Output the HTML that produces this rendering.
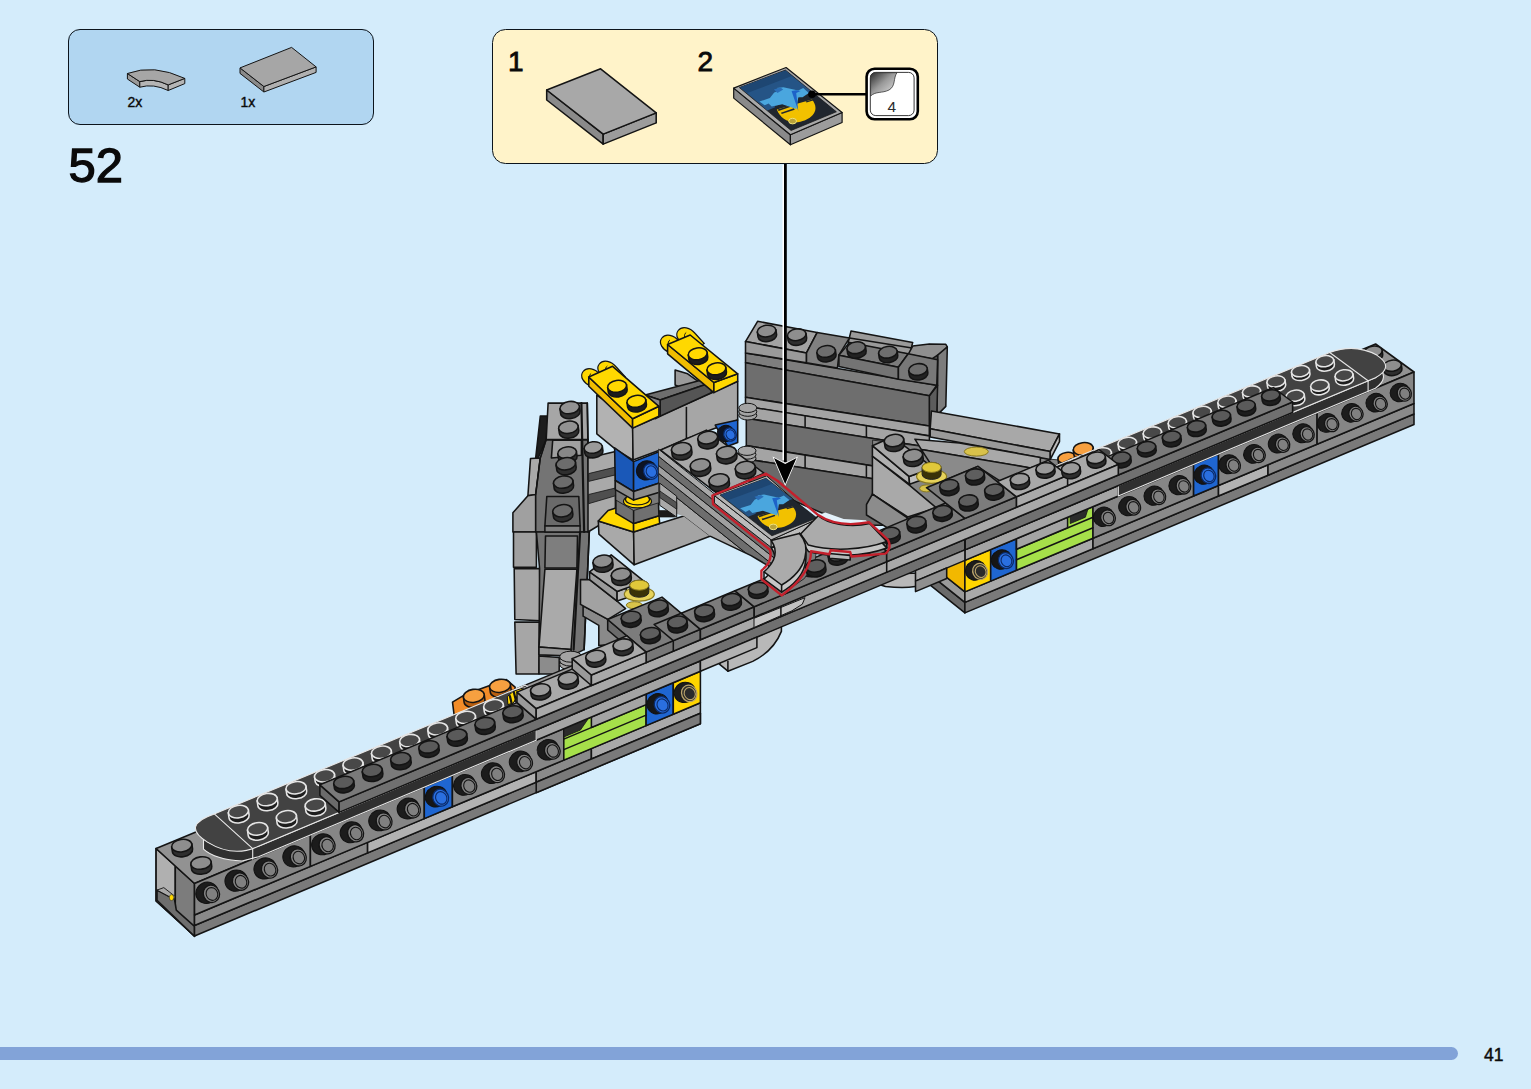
<!DOCTYPE html>
<html><head><meta charset="utf-8"><title>52</title>
<style>
html,body{margin:0;padding:0;background:#d4ecfb;}
body{width:1531px;height:1089px;position:relative;overflow:hidden;font-family:"Liberation Sans",sans-serif;color:#0a0a0a;}
.box{position:absolute;box-sizing:border-box;border:1.7px solid #0c141c;}
#parts{left:68px;top:29px;width:306px;height:96px;border-radius:12px;background:#b1d6f1;}
#sub{left:492px;top:29.2px;width:446px;height:135.3px;border-radius:13.5px;background:#fff3c9;}
.t{position:absolute;line-height:1;white-space:nowrap;}
#bar{position:absolute;left:0;top:1047px;width:1458px;height:12.5px;background:#82a3d8;border-radius:0 6.5px 6.5px 0;}
svg{position:absolute;left:0;top:0;}
</style></head><body>
<div class="box" id="parts"></div>
<div class="box" id="sub"></div>
<div id="bar"></div>
<div class="t" style="left:68.5px;top:141px;font-size:49px;-webkit-text-stroke:1.3px #0a0a0a;">52</div>
<div class="t" style="left:127.5px;top:95px;font-size:14px;-webkit-text-stroke:0.4px #0a0a0a;">2x</div>
<div class="t" style="left:240.5px;top:95px;font-size:14px;-webkit-text-stroke:0.4px #0a0a0a;">1x</div>
<div class="t" style="left:508px;top:48px;font-size:28px;-webkit-text-stroke:0.8px #0a0a0a;">1</div>
<div class="t" style="left:697.5px;top:48px;font-size:28px;-webkit-text-stroke:0.8px #0a0a0a;">2</div>
<div class="t" style="left:1484px;top:1046.5px;font-size:17.5px;-webkit-text-stroke:0.45px #0a0a0a;">41</div>
<svg width="1531" height="1089" viewBox="0 0 1531 1089">
<polygon points="851.0,331.1 912.7,342.4 909.7,354.4 848.0,343.1" fill="#9a9a9a" stroke="#141414" stroke-width="1.55" stroke-linejoin="round" />
<polyline points="849.5,337.9 910.5,347.7" fill="none" stroke="#141414" stroke-width="1.55" stroke-linejoin="round" stroke-linecap="round" />
<polygon points="912.7,346.1 929.3,343.9 945.8,344.3 947.3,346.9 937.6,359.7 908.2,354.4" fill="#8f8f8f" stroke="#141414" stroke-width="1.55" stroke-linejoin="round" />
<polygon points="937.6,355.2 947.3,346.9 945.8,406.4 936.8,415.4" fill="#7c7c7c" stroke="#141414" stroke-width="1.55" stroke-linejoin="round" />
<polygon points="929.3,395.8 937.6,385.3 937.6,355.2 930.8,359.7 929.3,370.2" fill="#5c5c5c" stroke="#141414" stroke-width="1.55" stroke-linejoin="round" />
<polygon points="929.3,395.8 937.6,385.3 936.8,415.4 929.3,426.0" fill="#5c5c5c" stroke="#141414" stroke-width="1.55" stroke-linejoin="round" />
<polygon points="745.5,352.9 936.8,385.3 929.3,395.8 745.5,362.7" fill="#7e7e7e" stroke="#141414" stroke-width="1.55" stroke-linejoin="round" />
<polygon points="745.5,362.7 929.3,395.8 929.3,426.0 745.5,397.3" fill="#6e6e6e" stroke="#141414" stroke-width="1.55" stroke-linejoin="round" />
<polygon points="745.5,397.3 929.3,426.0 929.3,435.8 745.5,406.4" fill="#a4a4a4" stroke="#141414" stroke-width="1.55" stroke-linejoin="round" />
<polygon points="757.6,321.3 817.1,332.6 806.5,352.9 745.5,341.6" fill="#a3a3a3" stroke="#141414" stroke-width="1.55" stroke-linejoin="round" />
<polygon points="745.5,341.6 806.5,352.9 806.5,362.7 745.5,352.9" fill="#9a9a9a" stroke="#141414" stroke-width="1.55" stroke-linejoin="round" />
<polygon points="817.1,332.6 849.5,337.9 838.9,355.2 837.4,368.0 806.5,362.7 806.5,352.9" fill="#808080" stroke="#141414" stroke-width="1.55" stroke-linejoin="round" />
<polygon points="849.5,342.4 908.2,353.7 898.4,367.2 838.9,355.2" fill="#7c7c7c" stroke="#141414" stroke-width="1.55" stroke-linejoin="round" />
<polygon points="838.9,355.2 898.4,367.2 898.4,379.3 838.9,366.5" fill="#747474" stroke="#141414" stroke-width="1.55" stroke-linejoin="round" />
<polygon points="908.2,353.7 937.6,359.7 936.8,385.3 898.4,379.3 898.4,367.2" fill="#787878" stroke="#141414" stroke-width="1.55" stroke-linejoin="round" />
<g transform="rotate(-8 766.6 331.1)">
<path d="M757.3 331.1 v4.7 a9.3 5.8 0 0 0 18.7 0 v-4.7 z" fill="#2e2e2e" stroke="#141414" stroke-width="1.55"/>
<ellipse cx="766.6" cy="331.1" rx="9.3" ry="5.8" fill="#8e8e8e" stroke="#141414" stroke-width="1.55"/>
</g>
<g transform="rotate(-8 796.7 334.8)">
<path d="M787.4 334.8 v4.7 a9.3 5.8 0 0 0 18.7 0 v-4.7 z" fill="#2e2e2e" stroke="#141414" stroke-width="1.55"/>
<ellipse cx="796.7" cy="334.8" rx="9.3" ry="5.8" fill="#8e8e8e" stroke="#141414" stroke-width="1.55"/>
</g>
<g transform="rotate(-8 826.1 351.4)">
<path d="M816.8 351.4 v4.7 a9.3 5.8 0 0 0 18.7 0 v-4.7 z" fill="#222" stroke="#141414" stroke-width="1.55"/>
<ellipse cx="826.1" cy="351.4" rx="9.3" ry="5.8" fill="#6e6e6e" stroke="#141414" stroke-width="1.55"/>
</g>
<g transform="rotate(-8 856.2 347.7)">
<path d="M846.9 347.7 v4.7 a9.3 5.8 0 0 0 18.7 0 v-4.7 z" fill="#222" stroke="#141414" stroke-width="1.55"/>
<ellipse cx="856.2" cy="347.7" rx="9.3" ry="5.8" fill="#6e6e6e" stroke="#141414" stroke-width="1.55"/>
</g>
<g transform="rotate(-8 887.9 352.2)">
<path d="M878.5 352.2 v4.7 a9.3 5.8 0 0 0 18.7 0 v-4.7 z" fill="#222" stroke="#141414" stroke-width="1.55"/>
<ellipse cx="887.9" cy="352.2" rx="9.3" ry="5.8" fill="#6e6e6e" stroke="#141414" stroke-width="1.55"/>
</g>
<g transform="rotate(-8 918.0 369.5)">
<path d="M908.6 369.5 v4.7 a9.3 5.8 0 0 0 18.7 0 v-4.7 z" fill="#222" stroke="#141414" stroke-width="1.55"/>
<ellipse cx="918.0" cy="369.5" rx="9.3" ry="5.8" fill="#6e6e6e" stroke="#141414" stroke-width="1.55"/>
</g>
<polygon points="746.3,406.3 929.4,435.9 929.4,447.6 746.3,418.3" fill="#a4a4a4" stroke="#141414" stroke-width="1.55" stroke-linejoin="round" />
<polyline points="805.1,415.8 805.1,427.8" fill="none" stroke="#141414" stroke-width="1.55" stroke-linejoin="round" stroke-linecap="round" />
<polyline points="866.4,425.6 866.4,437.6" fill="none" stroke="#141414" stroke-width="1.55" stroke-linejoin="round" stroke-linecap="round" />
<polygon points="746.3,418.3 929.4,447.6 929.4,475.1 746.3,445.6" fill="#6e6e6e" stroke="#141414" stroke-width="1.55" stroke-linejoin="round" />
<polygon points="746.3,445.6 929.4,475.1 929.4,487.6 746.3,459.1" fill="#a4a4a4" stroke="#141414" stroke-width="1.55" stroke-linejoin="round" />
<polyline points="805.1,455.1 805.1,468.6" fill="none" stroke="#141414" stroke-width="1.55" stroke-linejoin="round" stroke-linecap="round" />
<polyline points="866.4,465.1 866.4,478.1" fill="none" stroke="#141414" stroke-width="1.55" stroke-linejoin="round" stroke-linecap="round" />
<polygon points="746.3,459.1 929.4,487.6 929.4,525.2 850.1,525.2 746.3,480.1" fill="#696969" stroke="#141414" stroke-width="1.55" stroke-linejoin="round" />
<ellipse cx="747.8" cy="415.4" rx="9" ry="4.6" fill="#a4a4a4" stroke="#141414" stroke-width="1"/>
<ellipse cx="747.8" cy="411.7" rx="9" ry="4.6" fill="#a4a4a4" stroke="#141414" stroke-width="1"/>
<ellipse cx="747.8" cy="407.9" rx="9" ry="4.6" fill="#a4a4a4" stroke="#141414" stroke-width="1"/>
<ellipse cx="747.0" cy="458.3" rx="9" ry="4.6" fill="#a4a4a4" stroke="#141414" stroke-width="1"/>
<ellipse cx="747.0" cy="454.6" rx="9" ry="4.6" fill="#a4a4a4" stroke="#141414" stroke-width="1"/>
<ellipse cx="747.0" cy="450.8" rx="9" ry="4.6" fill="#a4a4a4" stroke="#141414" stroke-width="1"/>
<polygon points="540.3,416.1 548.1,416.1 546.2,439.6 538.3,457.9 535.7,457.9" fill="#1c1c1c" stroke="#141414" stroke-width="1.55" stroke-linejoin="round" />
<polygon points="530.5,458.6 540.3,457.9 535.7,494.5 527.9,495.8" fill="#a9a9a9" stroke="#141414" stroke-width="1.55" stroke-linejoin="round" />
<polygon points="512.9,512.8 527.9,495.8 535.7,494.5 535.7,532.0 512.9,532.0" fill="#a0a0a0" stroke="#141414" stroke-width="1.55" stroke-linejoin="round" />
<polygon points="513.5,532.0 536.4,532.0 536.4,567.3 513.5,567.3" fill="#a0a0a0" stroke="#141414" stroke-width="1.55" stroke-linejoin="round" />
<polygon points="514.2,568.6 539.6,568.6 540.3,620.8 514.8,619.5" fill="#a6a6a6" stroke="#141414" stroke-width="1.55" stroke-linejoin="round" />
<polygon points="514.8,622.1 539.6,622.1 539.0,674.0 516.1,674.0" fill="#a6a6a6" stroke="#141414" stroke-width="1.55" stroke-linejoin="round" />
<polygon points="546.2,439.6 588.0,439.6 589.3,532.0 535.7,532.0 535.7,494.5 540.3,457.9" fill="#747474" stroke="#141414" stroke-width="1.55" stroke-linejoin="round" />
<polygon points="536.4,532.0 589.3,532.0 584.1,649.6 571.0,656.1 539.0,654.8 539.6,568.6" fill="#747474" stroke="#141414" stroke-width="1.55" stroke-linejoin="round" />
<polygon points="548.1,403.1 587.3,403.1 588.0,439.6 546.2,439.6" fill="#a6a6a6" stroke="#141414" stroke-width="1.55" stroke-linejoin="round" />
<g transform="rotate(-8 569.7 407.6)">
<path d="M559.9 407.6 v4.9 a9.8 6.1 0 0 0 19.6 0 v-4.9 z" fill="#2e2e2e" stroke="#141414" stroke-width="1.55"/>
<ellipse cx="569.7" cy="407.6" rx="9.8" ry="6.1" fill="#929292" stroke="#141414" stroke-width="1.55"/>
</g>
<g transform="rotate(-8 568.4 427.2)">
<path d="M558.6 427.2 v4.9 a9.8 6.1 0 0 0 19.6 0 v-4.9 z" fill="#2e2e2e" stroke="#141414" stroke-width="1.55"/>
<ellipse cx="568.4" cy="427.2" rx="9.8" ry="6.1" fill="#929292" stroke="#141414" stroke-width="1.55"/>
</g>
<polygon points="552.7,440.3 581.4,440.3 581.4,455.3 551.4,457.9" fill="#a0a0a0" stroke="#141414" stroke-width="1.55" stroke-linejoin="round" />
<g transform="rotate(-8 567.1 452.7)">
<path d="M557.7 452.7 v4.7 a9.4 5.8 0 0 0 18.8 0 v-4.7 z" fill="#2e2e2e" stroke="#141414" stroke-width="1.55"/>
<ellipse cx="567.1" cy="452.7" rx="9.4" ry="5.8" fill="#888" stroke="#141414" stroke-width="1.55"/>
</g>
<g transform="rotate(-8 565.8 463.8)">
<path d="M556.0 463.8 v4.9 a9.8 6.1 0 0 0 19.6 0 v-4.9 z" fill="#2e2e2e" stroke="#141414" stroke-width="1.55"/>
<ellipse cx="565.8" cy="463.8" rx="9.8" ry="6.1" fill="#6c6c6c" stroke="#141414" stroke-width="1.55"/>
</g>
<g transform="rotate(-8 563.2 482.1)">
<path d="M553.4 482.1 v4.9 a9.8 6.1 0 0 0 19.6 0 v-4.9 z" fill="#2e2e2e" stroke="#141414" stroke-width="1.55"/>
<ellipse cx="563.2" cy="482.1" rx="9.8" ry="6.1" fill="#6c6c6c" stroke="#141414" stroke-width="1.55"/>
</g>
<polygon points="546.8,496.5 578.8,496.5 580.1,525.9 544.9,525.9" fill="#6a6a6a" stroke="#141414" stroke-width="1.55" stroke-linejoin="round" />
<g transform="rotate(-8 562.5 510.8)">
<path d="M552.7 510.8 v4.9 a9.8 6.1 0 0 0 19.6 0 v-4.9 z" fill="#2e2e2e" stroke="#141414" stroke-width="1.55"/>
<ellipse cx="562.5" cy="510.8" rx="9.8" ry="6.1" fill="#6c6c6c" stroke="#141414" stroke-width="1.55"/>
</g>
<polygon points="544.9,525.9 580.1,525.9 580.1,532.0 544.9,532.0" fill="#808080" stroke="#141414" stroke-width="1.55" stroke-linejoin="round" />
<polygon points="545.5,535.9 577.5,535.9 576.9,567.9 544.9,567.9" fill="#7e7e7e" stroke="#141414" stroke-width="1.55" stroke-linejoin="round" />
<polygon points="544.9,569.2 576.9,569.2 571.0,649.6 539.0,647.0" fill="#aaaaaa" stroke="#141414" stroke-width="1.55" stroke-linejoin="round" />
<polygon points="539.0,647.0 571.0,649.6 571.0,656.1 539.0,654.8" fill="#969696" stroke="#141414" stroke-width="1.55" stroke-linejoin="round" />
<polygon points="539.0,656.1 559.2,657.4 559.2,674.0 539.0,674.0" fill="#8c8c8c" stroke="#141414" stroke-width="1.55" stroke-linejoin="round" />
<polyline points="581.4,403.1 584.1,532.0" fill="none" stroke="#141414" stroke-width="2.2" stroke-linejoin="round" stroke-linecap="round" />
<polyline points="580.1,532.0 573.6,649.6" fill="none" stroke="#141414" stroke-width="2.2" stroke-linejoin="round" stroke-linecap="round" />
<polyline points="587.3,403.1 589.3,532.0" fill="none" stroke="#141414" stroke-width="1.6" stroke-linejoin="round" stroke-linecap="round" />
<polyline points="589.3,532.0 584.1,649.6" fill="none" stroke="#141414" stroke-width="1.6" stroke-linejoin="round" stroke-linecap="round" />
<polyline points="546.2,439.6 540.3,457.9 535.7,494.5" fill="none" stroke="#141414" stroke-width="1.3" stroke-linejoin="round" stroke-linecap="round" />
<polygon points="588.0,457.9 615.4,451.4 615.4,515.4 588.0,532.0" fill="#a9a9a9" stroke="#141414" stroke-width="1.55" stroke-linejoin="round" />
<polygon points="588.6,473.6 615.4,467.1 615.4,474.9 588.6,481.4" fill="#4f4f4f" stroke="#141414" stroke-width="0.8" stroke-linejoin="round" />
<polygon points="588.6,494.5 615.4,488.0 615.4,495.8 588.6,503.7" fill="#4f4f4f" stroke="#141414" stroke-width="0.8" stroke-linejoin="round" />
<g transform="rotate(-8 593.2 447.5)">
<path d="M584.1 447.5 v4.6 a9.1 5.7 0 0 0 18.3 0 v-4.6 z" fill="#2e2e2e" stroke="#141414" stroke-width="1.55"/>
<ellipse cx="593.2" cy="447.5" rx="9.1" ry="5.7" fill="#9a9a9a" stroke="#141414" stroke-width="1.55"/>
</g>
<polygon points="675.1,370.0 687.7,373.8 713.9,392.6 713.9,402.6 675.1,385.0" fill="#9a9a9a" stroke="#141414" stroke-width="1.55" stroke-linejoin="round" />
<polygon points="596.8,395.1 632.6,420.1 633.1,460.1 615.1,448.8 596.8,433.8" fill="#b2b2b2" stroke="#141414" stroke-width="1.55" stroke-linejoin="round" />
<polygon points="632.6,428.1 737.7,381.3 737.7,420.1 686.4,438.8 660.1,450.1 633.1,460.1" fill="#a6a6a6" stroke="#141414" stroke-width="1.55" stroke-linejoin="round" />
<polyline points="686.4,407.6 686.4,438.8" fill="none" stroke="#141414" stroke-width="1.55" stroke-linejoin="round" stroke-linecap="round" />
<polygon points="645.1,395.1 706.4,378.8 711.4,382.5 660.1,400.1" fill="#6e6e6e" stroke="#141414" stroke-width="1.55" stroke-linejoin="round" />
<polygon points="660.1,400.1 711.4,382.5 711.4,392.6 660.1,416.3" fill="#555" stroke="#141414" stroke-width="1.55" stroke-linejoin="round" />
<polygon points="645.1,395.1 660.1,400.1 660.1,416.3 655.1,418.8 645.1,405.1" fill="#8a8a8a" stroke="#141414" stroke-width="1.55" stroke-linejoin="round" />
<polygon points="614.6,447.8 633.6,461.6 633.6,491.6 615.3,480.5" fill="#1a58b8" stroke="#141414" stroke-width="1.55" stroke-linejoin="round" />
<polygon points="633.6,461.6 659.0,451.8 659.4,483.1 633.6,491.6" fill="#1f66d1" stroke="#141414" stroke-width="1.55" stroke-linejoin="round" />
<ellipse cx="646.8" cy="469.5" rx="10.3" ry="9.5" fill="#0d1424" stroke="#111" stroke-width="1" transform="rotate(-25 648.6 470.7)"/>
<ellipse cx="650.4" cy="472.3" rx="7.2" ry="8.0" fill="#2a6fe0" stroke="#0b2a66" stroke-width="1.3" transform="rotate(-25 648.6 470.7)"/>
<ellipse cx="650.8" cy="472.7" rx="5.1" ry="5.9" fill="none" stroke="#0b2a66" stroke-width="1.1" transform="rotate(-25 648.6 470.7)"/>
<polygon points="715.2,425.1 737.7,420.1 737.7,442.6 727.7,446.3" fill="#1f66d1" stroke="#141414" stroke-width="1.55" stroke-linejoin="round" />
<ellipse cx="725.9" cy="432.6" rx="8.6" ry="8.0" fill="#0d1424" stroke="#111" stroke-width="1" transform="rotate(-25 727.7 433.8)"/>
<ellipse cx="729.5" cy="435.4" rx="6.1" ry="6.7" fill="#2a6fe0" stroke="#0b2a66" stroke-width="1.3" transform="rotate(-25 727.7 433.8)"/>
<ellipse cx="729.9" cy="435.8" rx="4.3" ry="5.0" fill="none" stroke="#0b2a66" stroke-width="1.1" transform="rotate(-25 727.7 433.8)"/>
<polygon points="598.3,521.0 633.6,532.1 634.2,564.8 598.9,534.1" fill="#a9a9a9" stroke="#141414" stroke-width="1.55" stroke-linejoin="round" />
<polygon points="633.6,532.1 659.7,523.6 684.5,515.8 710.6,536.0 634.2,564.8" fill="#a4a4a4" stroke="#141414" stroke-width="1.55" stroke-linejoin="round" />
<polygon points="608.1,510.5 615.9,507.9 633.6,518.4 633.6,532.1 598.3,521.0" fill="#ffd800" stroke="#141414" stroke-width="1.55" stroke-linejoin="round" />
<polygon points="633.6,523.6 659.0,515.8 659.7,523.6 633.6,532.1" fill="#ffd800" stroke="#141414" stroke-width="1.55" stroke-linejoin="round" />
<polygon points="615.9,498.8 633.6,509.2 658.4,501.4 659.0,515.8 633.6,523.6 615.9,513.2" fill="#707070" stroke="#141414" stroke-width="1.55" stroke-linejoin="round" />
<polyline points="633.6,509.2 633.6,523.6" fill="none" stroke="#141414" stroke-width="1.55" stroke-linejoin="round" stroke-linecap="round" />
<polygon points="658.4,510.5 668.8,510.5 675.4,517.1 659.7,517.1" fill="#1a1a1a" stroke="#141414" stroke-width="0.6" stroke-linejoin="round" />
<polygon points="615.9,488.3 633.6,498.8 659.0,490.9 659.0,502.7 633.6,510.5 615.9,500.1" fill="#7a7a7a" stroke="#141414" stroke-width="0.8" stroke-linejoin="round" />
<ellipse cx="637.5" cy="501.4" rx="14.0" ry="6.5" fill="#ffd800" stroke="#141414" stroke-width="1.2"/>
<ellipse cx="637.5" cy="499.4" rx="12.0" ry="5.5" fill="#ffd800" stroke="#141414" stroke-width="1.2"/>
<polygon points="615.3,480.5 633.6,491.6 659.4,483.1 659.4,492.3 633.6,500.1 615.3,489.6" fill="#8c8c8c" stroke="#141414" stroke-width="1.55" stroke-linejoin="round" />
<polyline points="633.6,491.6 633.6,500.1" fill="none" stroke="#141414" stroke-width="1.55" stroke-linejoin="round" stroke-linecap="round" />
<path d="M590.1 385.5 c-6 -2 -11 -9 -7 -14 c4 -5 12 -3 17 3 l9 10 l-10 7 z" fill="#ffd800" stroke="#141414" stroke-width="1.2"/>
<path d="M594.1 383.5 c-5 -3 -6 -8 -3 -10" fill="none" stroke="#141414" stroke-width="1"/>
<path d="M606.3 378.0 c-6 -2 -11 -9 -7 -14 c4 -5 12 -3 17 3 l9 10 l-10 7 z" fill="#ffd800" stroke="#141414" stroke-width="1.2"/>
<path d="M610.3 376.0 c-5 -3 -6 -8 -3 -10" fill="none" stroke="#141414" stroke-width="1"/>
<polygon points="588.8,377.0 632.6,418.8 632.6,428.1 588.8,386.3" fill="#f0bc00" stroke="#141414" stroke-width="1.55" stroke-linejoin="round" />
<polygon points="632.6,418.8 658.9,406.3 658.9,416.3 632.6,428.1" fill="#ffd800" stroke="#141414" stroke-width="1.55" stroke-linejoin="round" />
<polygon points="588.8,377.0 612.6,366.3 658.9,406.3 632.6,418.8" fill="#ffd800" stroke="#141414" stroke-width="1.55" stroke-linejoin="round" />
<g transform="rotate(-8 617.1 386.3)">
<path d="M607.6 386.3 v4.8 a9.5 5.9 0 0 0 19.0 0 v-4.8 z" fill="#1c1c1c" stroke="#141414" stroke-width="1.55"/>
<ellipse cx="617.1" cy="386.3" rx="9.5" ry="5.9" fill="#ffd800" stroke="#141414" stroke-width="1.55"/>
</g>
<g transform="rotate(-8 636.4 401.3)">
<path d="M626.9 401.3 v4.8 a9.5 5.9 0 0 0 19.0 0 v-4.8 z" fill="#1c1c1c" stroke="#141414" stroke-width="1.55"/>
<ellipse cx="636.4" cy="401.3" rx="9.5" ry="5.9" fill="#ffd800" stroke="#141414" stroke-width="1.55"/>
</g>
<path d="M668.9 352.0 c-6 -2 -11 -9 -7 -14 c4 -5 12 -3 17 3 l9 10 l-10 7 z" fill="#ffd800" stroke="#141414" stroke-width="1.2"/>
<path d="M672.9 350.0 c-5 -3 -6 -8 -3 -10" fill="none" stroke="#141414" stroke-width="1"/>
<path d="M685.2 344.5 c-6 -2 -11 -9 -7 -14 c4 -5 12 -3 17 3 l9 10 l-10 7 z" fill="#ffd800" stroke="#141414" stroke-width="1.2"/>
<path d="M689.2 342.5 c-5 -3 -6 -8 -3 -10" fill="none" stroke="#141414" stroke-width="1"/>
<polygon points="667.6,344.5 713.9,382.5 713.9,392.6 667.6,353.8" fill="#f0bc00" stroke="#141414" stroke-width="1.55" stroke-linejoin="round" />
<polygon points="713.9,382.5 737.7,373.8 737.7,381.3 713.9,392.6" fill="#ffd800" stroke="#141414" stroke-width="1.55" stroke-linejoin="round" />
<polygon points="667.6,344.5 690.2,335.0 737.7,373.8 713.9,382.5" fill="#ffd800" stroke="#141414" stroke-width="1.55" stroke-linejoin="round" />
<g transform="rotate(-8 697.7 353.8)">
<path d="M688.2 353.8 v4.8 a9.5 5.9 0 0 0 19.0 0 v-4.8 z" fill="#1c1c1c" stroke="#141414" stroke-width="1.55"/>
<ellipse cx="697.7" cy="353.8" rx="9.5" ry="5.9" fill="#ffd800" stroke="#141414" stroke-width="1.55"/>
</g>
<g transform="rotate(-8 716.4 368.8)">
<path d="M706.9 368.8 v4.8 a9.5 5.9 0 0 0 19.0 0 v-4.8 z" fill="#1c1c1c" stroke="#141414" stroke-width="1.55"/>
<ellipse cx="716.4" cy="368.8" rx="9.5" ry="5.9" fill="#ffd800" stroke="#141414" stroke-width="1.55"/>
</g>
<clipPath id="bandclip"><polygon points="658.4,445.2 778.6,544.5 778.6,571.9 751.1,555.6 710.6,536.4 684.5,516.4 658.4,507.9"/></clipPath><g clip-path="url(#bandclip)">
<polygon points="658.4,483.0 778.6,579.1 778.6,597.4 658.4,501.3" fill="#a6a6a6" stroke="#141414" stroke-width="1.0" stroke-linejoin="round" />
<polygon points="658.4,473.2 778.6,569.3 778.6,579.1 658.4,483.0" fill="#6e6e6e" stroke="#141414" stroke-width="1.0" stroke-linejoin="round" />
<polygon points="658.4,465.3 778.6,561.5 778.6,569.3 658.4,473.2" fill="#a0a0a0" stroke="#141414" stroke-width="1.0" stroke-linejoin="round" />
<polygon points="658.4,456.2 778.6,552.3 778.6,561.5 658.4,465.3" fill="#6e6e6e" stroke="#141414" stroke-width="1.0" stroke-linejoin="round" />
<polygon points="658.4,449.0 778.6,545.2 778.6,552.3 658.4,456.2" fill="#a9a9a9" stroke="#141414" stroke-width="1.0" stroke-linejoin="round" />
</g>
<polyline points="778.6,571.9 751.1,555.6 710.6,536.4" fill="none" stroke="#141414" stroke-width="1.55" stroke-linejoin="round" stroke-linecap="round" />
<polygon points="659.7,483.1 676.7,496.2 676.7,517.1 659.7,505.3" fill="#a9a9a9" stroke="#141414" stroke-width="1.0" stroke-linejoin="round" />
<polygon points="659.7,490.9 676.7,502.7 676.7,509.2 659.7,497.5" fill="#555" stroke="#141414" stroke-width="0.8" stroke-linejoin="round" />
<polygon points="660.6,450.1 706.4,430.1 764.0,473.1 717.7,493.9" fill="#a8a8a8" stroke="#141414" stroke-width="1.55" stroke-linejoin="round" />
<g transform="rotate(-8 707.7 437.6)">
<path d="M697.7 437.6 v5.0 a10.0 6.2 0 0 0 20.0 0 v-5.0 z" fill="#2e2e2e" stroke="#141414" stroke-width="1.55"/>
<ellipse cx="707.7" cy="437.6" rx="10.0" ry="6.2" fill="#8e8e8e" stroke="#141414" stroke-width="1.55"/>
</g>
<g transform="rotate(-8 726.4 452.6)">
<path d="M716.4 452.6 v5.0 a10.0 6.2 0 0 0 20.0 0 v-5.0 z" fill="#2e2e2e" stroke="#141414" stroke-width="1.55"/>
<ellipse cx="726.4" cy="452.6" rx="10.0" ry="6.2" fill="#8e8e8e" stroke="#141414" stroke-width="1.55"/>
</g>
<g transform="rotate(-8 745.2 467.6)">
<path d="M735.2 467.6 v5.0 a10.0 6.2 0 0 0 20.0 0 v-5.0 z" fill="#2e2e2e" stroke="#141414" stroke-width="1.55"/>
<ellipse cx="745.2" cy="467.6" rx="10.0" ry="6.2" fill="#8e8e8e" stroke="#141414" stroke-width="1.55"/>
</g>
<g transform="rotate(-8 681.4 448.8)">
<path d="M671.4 448.8 v5.0 a10.0 6.2 0 0 0 20.0 0 v-5.0 z" fill="#2e2e2e" stroke="#141414" stroke-width="1.55"/>
<ellipse cx="681.4" cy="448.8" rx="10.0" ry="6.2" fill="#8e8e8e" stroke="#141414" stroke-width="1.55"/>
</g>
<g transform="rotate(-8 700.2 465.1)">
<path d="M690.2 465.1 v5.0 a10.0 6.2 0 0 0 20.0 0 v-5.0 z" fill="#2e2e2e" stroke="#141414" stroke-width="1.55"/>
<ellipse cx="700.2" cy="465.1" rx="10.0" ry="6.2" fill="#8e8e8e" stroke="#141414" stroke-width="1.55"/>
</g>
<g transform="rotate(-8 718.9 480.1)">
<path d="M708.9 480.1 v5.0 a10.0 6.2 0 0 0 20.0 0 v-5.0 z" fill="#2e2e2e" stroke="#141414" stroke-width="1.55"/>
<ellipse cx="718.9" cy="480.1" rx="10.0" ry="6.2" fill="#8e8e8e" stroke="#141414" stroke-width="1.55"/>
</g>
<polygon points="714.4,495.5 771.2,539.9 771.2,547.4 714.4,503.0" fill="#bcbcbc" stroke="#141414" stroke-width="1.0" stroke-linejoin="round" />
<polygon points="771.2,539.9 816.3,519.6 816.3,527.1 771.2,547.4" fill="#bcbcbc" stroke="#141414" stroke-width="1.0" stroke-linejoin="round" />
<polygon points="714.4,495.5 766.6,475.9 816.3,519.6 771.2,539.9" fill="#b4b4b4" stroke="#141414" stroke-width="1.0" stroke-linejoin="round" />
<polygon points="720.1,495.1 765.9,478.3 817.0,518.0 771.9,535.8" fill="#20262e" stroke="#141414" stroke-width="0.7" stroke-linejoin="round" />
<polygon points="720.8,495.1 765.9,478.6 792.5,499.1 748.2,516.7" fill="#255486" stroke="none" stroke-width="0" stroke-linejoin="round" />
<polygon points="720.8,495.1 765.9,478.6 772.4,483.8 728.0,500.3" fill="#1e4672" stroke="none" stroke-width="0" stroke-linejoin="round" />
<path d="M757.5 516.0 L792.6 506.4 C801.2 516.6 792.6 524.8 781.2 527.6 C769.7 529.6 761.1 524.8 757.5 516.0 Z" fill="#f2c100" stroke="none" stroke-width="0" stroke-linejoin="round" />
<polygon points="755.3,512.8 768.2,508.7 769.1,510.1 756.2,514.2" fill="#20262e" stroke="none" stroke-width="0" stroke-linejoin="round" />
<polygon points="758.5,515.8 771.4,511.7 772.2,513.1 759.3,517.2" fill="#20262e" stroke="none" stroke-width="0" stroke-linejoin="round" />
<polygon points="761.6,518.8 774.5,514.7 775.4,516.1 762.5,520.2" fill="#20262e" stroke="none" stroke-width="0" stroke-linejoin="round" />
<polygon points="781.1,503.2 792.5,499.9 793.4,501.0 781.9,504.3" fill="#20262e" stroke="none" stroke-width="0" stroke-linejoin="round" />
<polygon points="783.7,505.7 795.1,502.4 796.0,503.5 784.5,506.8" fill="#20262e" stroke="none" stroke-width="0" stroke-linejoin="round" />
<polygon points="786.3,508.1 797.7,504.9 798.6,505.9 787.1,509.2" fill="#20262e" stroke="none" stroke-width="0" stroke-linejoin="round" />
<polygon points="740.1,508.3 750.5,504.9 754.8,499.5 762.1,497.2 757.2,495.4 764.0,494.6 778.9,497.8 783.8,495.4 789.4,500.1 783.2,504.2 778.9,504.2 777.1,515.4 762.9,510.8 752.4,513.1 749.3,510.1 745.6,511.9" fill="#4aa6de" stroke="none" stroke-width="0" stroke-linejoin="round" />
<polygon points="772.2,498.2 779.0,517.3 776.8,500.2 781.1,498.2 776.8,497.5" fill="#1d62c8" stroke="none" stroke-width="0" stroke-linejoin="round" />
<polygon points="754.5,496.8 761.0,495.0 763.8,496.8 758.1,500.2" fill="#2b6fb8" stroke="none" stroke-width="0" stroke-linejoin="round" />
<ellipse cx="773.3" cy="526.9" rx="3.9" ry="2.8" fill="#b8a23a" stroke="#f0e27a" stroke-width="1.0"/>
<polygon points="872.6,440.1 950.2,450.1 1060.3,460.1 1060.3,480.1 950.2,525.2 872.6,500.2" fill="#858585" stroke="#141414" stroke-width="0.8" stroke-linejoin="round" />
<polygon points="931.4,411.1 1059.5,433.9 1050.3,451.6 930.2,428.8" fill="#a8a8a8" stroke="#141414" stroke-width="1.55" stroke-linejoin="round" />
<polygon points="930.2,428.8 1050.3,451.6 1050.3,459.4 930.2,436.9" fill="#9a9a9a" stroke="#141414" stroke-width="1.55" stroke-linejoin="round" />
<polygon points="1050.3,451.6 1059.5,433.9 1059.5,441.6 1050.3,459.4" fill="#bbbbbb" stroke="#141414" stroke-width="1.55" stroke-linejoin="round" />
<polygon points="914.9,439.2 959.3,443.1 1040.3,457.5 1040.3,465.3 1029.8,467.9 921.4,449.6" fill="#a9a9a9" stroke="#141414" stroke-width="1.55" stroke-linejoin="round" />
<ellipse cx="976.3" cy="451.6" rx="12" ry="4.5" fill="#d9c24a" stroke="#8a7a20" stroke-width="1"/>
<polygon points="921.4,449.6 1031.1,467.9 1001.1,481.6 977.6,466.6 946.2,479.7 933.2,467.9" fill="#8a8a8a" stroke="#141414" stroke-width="1.55" stroke-linejoin="round" />
<polygon points="872.4,456.2 909.0,484.9 936.4,507.8 907.7,516.9 872.4,494.1" fill="#a9a9a9" stroke="#141414" stroke-width="1.55" stroke-linejoin="round" />
<polyline points="872.4,494.1 907.0,517.6" fill="none" stroke="#141414" stroke-width="1.55" stroke-linejoin="round" stroke-linecap="round" />
<polygon points="872.4,445.7 909.0,476.4 909.6,484.3 872.4,456.2" fill="#b0b0b0" stroke="#141414" stroke-width="1.55" stroke-linejoin="round" />
<polygon points="909.0,476.4 933.2,467.9 933.2,475.8 909.6,484.3" fill="#c0c0c0" stroke="#141414" stroke-width="1.55" stroke-linejoin="round" />
<polygon points="872.4,445.7 892.7,436.8 933.2,467.9 909.0,476.4" fill="#a8a8a8" stroke="#141414" stroke-width="1.55" stroke-linejoin="round" />
<g transform="rotate(-8 894.0 440.5)">
<path d="M884.2 440.5 v4.9 a9.8 6.1 0 0 0 19.6 0 v-4.9 z" fill="#2e2e2e" stroke="#141414" stroke-width="1.55"/>
<ellipse cx="894.0" cy="440.5" rx="9.8" ry="6.1" fill="#8e8e8e" stroke="#141414" stroke-width="1.55"/>
</g>
<g transform="rotate(-8 912.9 455.5)">
<path d="M903.1 455.5 v4.9 a9.8 6.1 0 0 0 19.6 0 v-4.9 z" fill="#2e2e2e" stroke="#141414" stroke-width="1.55"/>
<ellipse cx="912.9" cy="455.5" rx="9.8" ry="6.1" fill="#8e8e8e" stroke="#141414" stroke-width="1.55"/>
</g>
<polygon points="872.4,494.1 907.0,517.6 907.0,525.4 890.0,529.3 866.5,515.0 866.5,504.5" fill="#8c8c8c" stroke="#141414" stroke-width="1.55" stroke-linejoin="round" />
<ellipse cx="926.6" cy="488.4" rx="7" ry="3.5" fill="#d8c34a" stroke="#8a7a20" stroke-width="1"/>
<ellipse cx="931.6" cy="476.4" rx="15" ry="7" fill="#e6d25a" stroke="#8a7a20" stroke-width="1.2"/>
<path d="M922.1 474.4 v-7 a9.5 5 0 0 1 19 0 v7 a9.5 5 0 0 1 -19 0z" fill="#3a3208" stroke="#222" stroke-width="1"/>
<ellipse cx="931.6" cy="467.4" rx="9.5" ry="5" fill="#e0c83a" stroke="#8a7a20" stroke-width="1"/>
<path d="M719.4 664.1 L727.9 671.2 L752.7 661.4 Q773.6 651.0 781.4 631.4 L781.4 626.2 L729.2 648.4 Z" fill="#b8b8b8" stroke="#141414" stroke-width="1.55" stroke-linejoin="round" />
<polyline points="727.9,661.4 727.9,671.2" fill="none" stroke="#141414" stroke-width="1.55" stroke-linejoin="round" stroke-linecap="round" />
<path d="M848.0 575.1 L940.6 572.6 Q928.1 591.4 885.5 586.4 Z" fill="#b8b8b8" stroke="#141414" stroke-width="1.55" stroke-linejoin="round" />
<polygon points="583.1,605.7 607.9,619.4 607.9,627.9 625.6,639.0 612.5,644.3 598.8,645.6 598.8,625.3 583.1,616.2" fill="#8a8a8a" stroke="#141414" stroke-width="1.55" stroke-linejoin="round" />
<polygon points="580.5,579.6 589.6,579.6 617.1,601.1 625.6,608.6 607.9,619.4 580.5,604.4" fill="#a2a2a2" stroke="#141414" stroke-width="1.55" stroke-linejoin="round" />
<polygon points="589.6,571.8 617.1,591.4 617.1,601.1 589.6,579.6" fill="#9a9a9a" stroke="#141414" stroke-width="1.55" stroke-linejoin="round" />
<polygon points="617.1,591.4 626.2,588.1 626.2,597.9 617.1,601.1" fill="#b8b8b8" stroke="#141414" stroke-width="1.55" stroke-linejoin="round" />
<polygon points="589.6,571.8 611.2,554.8 644.5,581.6 617.1,591.4" fill="#a9a9a9" stroke="#141414" stroke-width="1.55" stroke-linejoin="round" />
<g transform="rotate(-8 602.7 561.3)">
<path d="M592.9 561.3 v4.9 a9.8 6.1 0 0 0 19.6 0 v-4.9 z" fill="#2e2e2e" stroke="#141414" stroke-width="1.55"/>
<ellipse cx="602.7" cy="561.3" rx="9.8" ry="6.1" fill="#8e8e8e" stroke="#141414" stroke-width="1.55"/>
</g>
<g transform="rotate(-8 621.0 574.4)">
<path d="M611.2 574.4 v4.9 a9.8 6.1 0 0 0 19.6 0 v-4.9 z" fill="#2e2e2e" stroke="#141414" stroke-width="1.55"/>
<ellipse cx="621.0" cy="574.4" rx="9.8" ry="6.1" fill="#8e8e8e" stroke="#141414" stroke-width="1.55"/>
</g>
<ellipse cx="570.7" cy="664.5" rx="11" ry="5.5" fill="#a4a4a4" stroke="#141414" stroke-width="1"/>
<ellipse cx="570.7" cy="660.6" rx="11" ry="5.5" fill="#a4a4a4" stroke="#141414" stroke-width="1"/>
<ellipse cx="570.7" cy="656.7" rx="11" ry="5.5" fill="#a4a4a4" stroke="#141414" stroke-width="1"/>
<ellipse cx="634.3" cy="605.2" rx="8" ry="3.5" fill="#d8c34a" stroke="#8a7a20" stroke-width="1"/>
<ellipse cx="639.3" cy="594.2" rx="15" ry="7" fill="#e6d25a" stroke="#8a7a20" stroke-width="1.2"/>
<path d="M629.8 592.2 v-7 a9.5 5 0 0 1 19 0 v7 a9.5 5 0 0 1 -19 0z" fill="#3a3208" stroke="#222" stroke-width="1"/>
<ellipse cx="639.3" cy="585.2" rx="9.5" ry="5" fill="#e0c83a" stroke="#8a7a20" stroke-width="1"/>
<polygon points="452.5,702.1 465.0,694.6 506.3,679.6 515.1,687.1 515.1,702.1 455.0,722.1" fill="#f28c28" stroke="#141414" stroke-width="1.55" stroke-linejoin="round" />
<g transform="rotate(-8 473.8 695.8)">
<path d="M463.3 695.8 v5.2 a10.5 6.5 0 0 0 21.0 0 v-5.2 z" fill="#b85f10" stroke="#141414" stroke-width="1.55"/>
<ellipse cx="473.8" cy="695.8" rx="10.5" ry="6.5" fill="#f7a040" stroke="#141414" stroke-width="1.55"/>
</g>
<g transform="rotate(-8 500.0 685.8)">
<path d="M489.5 685.8 v5.2 a10.5 6.5 0 0 0 21.0 0 v-5.2 z" fill="#b85f10" stroke="#141414" stroke-width="1.55"/>
<ellipse cx="500.0" cy="685.8" rx="10.5" ry="6.5" fill="#f7a040" stroke="#141414" stroke-width="1.55"/>
</g>
<g transform="rotate(-8 1066.9 458.0)">
<path d="M1057.9 458.0 v4.5 a9.0 5.6 0 0 0 18.0 0 v-4.5 z" fill="#e07a18" stroke="#141414" stroke-width="1.55"/>
<ellipse cx="1066.9" cy="458.0" rx="9.0" ry="5.6" fill="#f7a040" stroke="#141414" stroke-width="1.55"/>
</g>
<g transform="rotate(-8 1083.2 448.8)">
<path d="M1073.2 448.8 v5.0 a10.0 6.2 0 0 0 20.0 0 v-5.0 z" fill="#e07a18" stroke="#141414" stroke-width="1.55"/>
<ellipse cx="1083.2" cy="448.8" rx="10.0" ry="6.2" fill="#f7a040" stroke="#141414" stroke-width="1.55"/>
</g>
<ellipse cx="1073.2" cy="461.3" rx="5" ry="3" fill="#ffd800" stroke="#141414" stroke-width="0.8"/>
<polygon points="964.9,612.9 926.5,582.2 926.5,571.7 964.9,602.4" fill="#6a6a6a" stroke="#141414" stroke-width="1.55" stroke-linejoin="round" />
<polygon points="964.9,602.4 926.5,571.7 926.5,561.2 964.9,591.9" fill="#9a9a9a" stroke="#141414" stroke-width="1.55" stroke-linejoin="round" />
<polygon points="964.9,591.9 945.7,576.5 945.7,545.0 964.9,560.4" fill="#f2b800" stroke="#141414" stroke-width="1.55" stroke-linejoin="round" />
<polygon points="964.9,560.4 1414.0,372.0 1375.6,344.0 926.5,529.7" fill="#929292" stroke="#141414" stroke-width="1.55" stroke-linejoin="round" />
<polygon points="964.9,612.9 1414.0,424.5 1414.0,414.0 964.9,602.4" fill="#7a7a7a" stroke="#141414" stroke-width="1.55" stroke-linejoin="round" />
<polygon points="964.9,602.4 1093.0,548.7 1093.0,538.2 964.9,591.9" fill="#a9a9a9" stroke="#141414" stroke-width="1.55" stroke-linejoin="round" />
<polygon points="1093.0,548.7 1218.5,496.0 1218.5,485.5 1093.0,538.2" fill="#8a8a8a" stroke="#141414" stroke-width="1.55" stroke-linejoin="round" />
<polygon points="1218.5,496.0 1268.0,475.3 1268.0,464.8 1218.5,485.5" fill="#b2b2b2" stroke="#141414" stroke-width="1.55" stroke-linejoin="round" />
<polygon points="1268.0,475.3 1414.0,414.0 1414.0,403.5 1268.0,464.8" fill="#8a8a8a" stroke="#141414" stroke-width="1.55" stroke-linejoin="round" />
<polygon points="964.9,591.9 990.7,581.1 990.7,549.6 964.9,560.4" fill="#ffd500" stroke="#141414" stroke-width="1.55" stroke-linejoin="round" />
<polygon points="990.7,581.1 1016.5,570.3 1016.5,538.8 990.7,549.6" fill="#1f66d1" stroke="#141414" stroke-width="1.55" stroke-linejoin="round" />
<polygon points="1016.5,570.3 1093.0,538.2 1093.0,506.7 1016.5,538.8" fill="#a6e04a" stroke="#141414" stroke-width="1.55" stroke-linejoin="round" />
<polygon points="1093.0,538.2 1193.6,496.0 1193.6,464.5 1093.0,506.7" fill="#868686" stroke="#141414" stroke-width="1.55" stroke-linejoin="round" />
<polygon points="1193.6,496.0 1218.5,485.5 1218.5,454.0 1193.6,464.5" fill="#1f66d1" stroke="#141414" stroke-width="1.55" stroke-linejoin="round" />
<polygon points="1218.5,485.5 1317.1,444.2 1317.1,412.7 1218.5,454.0" fill="#868686" stroke="#141414" stroke-width="1.55" stroke-linejoin="round" />
<polygon points="1317.1,444.2 1414.0,403.5 1414.0,372.0 1317.1,412.7" fill="#868686" stroke="#141414" stroke-width="1.55" stroke-linejoin="round" />
<polyline points="1016.5,559.8 1093.0,527.7" fill="none" stroke="#141414" stroke-width="1.55" stroke-linejoin="round" stroke-linecap="round" />
<polyline points="1016.5,549.3 1093.0,517.2" fill="none" stroke="#141414" stroke-width="1.55" stroke-linejoin="round" stroke-linecap="round" />
<polygon points="1016.5,549.3 1067.6,527.8 1067.6,517.3 1016.5,538.8" fill="#a4a4a4" stroke="#141414" stroke-width="1.55" stroke-linejoin="round" />
<polygon points="1070.2,523.6 1085.4,517.2 1088.0,508.8 1070.2,516.2" fill="#2b2b2b" stroke="#141414" stroke-width="0.8" stroke-linejoin="round" />
<ellipse cx="1103.9" cy="515.9" rx="10.3" ry="9.5" fill="#1c1c1c" stroke="#111" stroke-width="1" transform="rotate(-25 1105.7 517.1)"/>
<ellipse cx="1107.5" cy="518.7" rx="7.2" ry="8.0" fill="#808080" stroke="#141414" stroke-width="1.3" transform="rotate(-25 1105.7 517.1)"/>
<ellipse cx="1107.9" cy="519.1" rx="5.1" ry="5.9" fill="none" stroke="#141414" stroke-width="1.1" transform="rotate(-25 1105.7 517.1)"/>
<ellipse cx="1129.1" cy="505.3" rx="10.2" ry="9.5" fill="#1c1c1c" stroke="#111" stroke-width="1" transform="rotate(-25 1130.9 506.5)"/>
<ellipse cx="1132.7" cy="508.1" rx="7.2" ry="8.0" fill="#808080" stroke="#141414" stroke-width="1.3" transform="rotate(-25 1130.9 506.5)"/>
<ellipse cx="1133.1" cy="508.5" rx="5.1" ry="5.9" fill="none" stroke="#141414" stroke-width="1.1" transform="rotate(-25 1130.9 506.5)"/>
<ellipse cx="1154.3" cy="494.8" rx="10.2" ry="9.4" fill="#1c1c1c" stroke="#111" stroke-width="1" transform="rotate(-25 1156.1 496.0)"/>
<ellipse cx="1157.9" cy="497.6" rx="7.2" ry="7.9" fill="#808080" stroke="#141414" stroke-width="1.3" transform="rotate(-25 1156.1 496.0)"/>
<ellipse cx="1158.3" cy="498.0" rx="5.1" ry="5.9" fill="none" stroke="#141414" stroke-width="1.1" transform="rotate(-25 1156.1 496.0)"/>
<ellipse cx="1179.3" cy="484.3" rx="10.2" ry="9.4" fill="#1c1c1c" stroke="#111" stroke-width="1" transform="rotate(-25 1181.1 485.5)"/>
<ellipse cx="1182.9" cy="487.1" rx="7.2" ry="7.9" fill="#808080" stroke="#141414" stroke-width="1.3" transform="rotate(-25 1181.1 485.5)"/>
<ellipse cx="1183.3" cy="487.5" rx="5.1" ry="5.8" fill="none" stroke="#141414" stroke-width="1.1" transform="rotate(-25 1181.1 485.5)"/>
<ellipse cx="1229.1" cy="463.4" rx="10.1" ry="9.4" fill="#1c1c1c" stroke="#111" stroke-width="1" transform="rotate(-25 1230.9 464.6)"/>
<ellipse cx="1232.7" cy="466.2" rx="7.1" ry="7.9" fill="#808080" stroke="#141414" stroke-width="1.3" transform="rotate(-25 1230.9 464.6)"/>
<ellipse cx="1233.1" cy="466.6" rx="5.1" ry="5.8" fill="none" stroke="#141414" stroke-width="1.1" transform="rotate(-25 1230.9 464.6)"/>
<ellipse cx="1253.9" cy="453.0" rx="10.1" ry="9.3" fill="#1c1c1c" stroke="#111" stroke-width="1" transform="rotate(-25 1255.7 454.2)"/>
<ellipse cx="1257.5" cy="455.8" rx="7.1" ry="7.8" fill="#808080" stroke="#141414" stroke-width="1.3" transform="rotate(-25 1255.7 454.2)"/>
<ellipse cx="1257.9" cy="456.2" rx="5.0" ry="5.8" fill="none" stroke="#141414" stroke-width="1.1" transform="rotate(-25 1255.7 454.2)"/>
<ellipse cx="1278.5" cy="442.7" rx="10.0" ry="9.3" fill="#1c1c1c" stroke="#111" stroke-width="1" transform="rotate(-25 1280.3 443.9)"/>
<ellipse cx="1282.1" cy="445.5" rx="7.1" ry="7.8" fill="#808080" stroke="#141414" stroke-width="1.3" transform="rotate(-25 1280.3 443.9)"/>
<ellipse cx="1282.5" cy="445.9" rx="5.0" ry="5.8" fill="none" stroke="#141414" stroke-width="1.1" transform="rotate(-25 1280.3 443.9)"/>
<ellipse cx="1303.0" cy="432.4" rx="10.0" ry="9.3" fill="#1c1c1c" stroke="#111" stroke-width="1" transform="rotate(-25 1304.8 433.6)"/>
<ellipse cx="1306.6" cy="435.2" rx="7.0" ry="7.8" fill="#808080" stroke="#141414" stroke-width="1.3" transform="rotate(-25 1304.8 433.6)"/>
<ellipse cx="1307.0" cy="435.6" rx="5.0" ry="5.7" fill="none" stroke="#141414" stroke-width="1.1" transform="rotate(-25 1304.8 433.6)"/>
<ellipse cx="1327.5" cy="422.1" rx="10.0" ry="9.2" fill="#1c1c1c" stroke="#111" stroke-width="1" transform="rotate(-25 1329.3 423.3)"/>
<ellipse cx="1331.1" cy="424.9" rx="7.0" ry="7.8" fill="#808080" stroke="#141414" stroke-width="1.3" transform="rotate(-25 1329.3 423.3)"/>
<ellipse cx="1331.5" cy="425.3" rx="5.0" ry="5.7" fill="none" stroke="#141414" stroke-width="1.1" transform="rotate(-25 1329.3 423.3)"/>
<ellipse cx="1351.8" cy="411.9" rx="9.9" ry="9.2" fill="#1c1c1c" stroke="#111" stroke-width="1" transform="rotate(-25 1353.6 413.1)"/>
<ellipse cx="1355.4" cy="414.7" rx="7.0" ry="7.7" fill="#808080" stroke="#141414" stroke-width="1.3" transform="rotate(-25 1353.6 413.1)"/>
<ellipse cx="1355.8" cy="415.1" rx="5.0" ry="5.7" fill="none" stroke="#141414" stroke-width="1.1" transform="rotate(-25 1353.6 413.1)"/>
<ellipse cx="1376.0" cy="401.8" rx="9.9" ry="9.2" fill="#1c1c1c" stroke="#111" stroke-width="1" transform="rotate(-25 1377.8 403.0)"/>
<ellipse cx="1379.6" cy="404.6" rx="7.0" ry="7.7" fill="#808080" stroke="#141414" stroke-width="1.3" transform="rotate(-25 1377.8 403.0)"/>
<ellipse cx="1380.0" cy="405.0" rx="5.0" ry="5.7" fill="none" stroke="#141414" stroke-width="1.1" transform="rotate(-25 1377.8 403.0)"/>
<ellipse cx="1400.2" cy="391.6" rx="9.9" ry="9.1" fill="#1c1c1c" stroke="#111" stroke-width="1" transform="rotate(-25 1402.0 392.8)"/>
<ellipse cx="1403.8" cy="394.4" rx="7.0" ry="7.7" fill="#808080" stroke="#141414" stroke-width="1.3" transform="rotate(-25 1402.0 392.8)"/>
<ellipse cx="1404.2" cy="394.8" rx="4.9" ry="5.7" fill="none" stroke="#141414" stroke-width="1.1" transform="rotate(-25 1402.0 392.8)"/>
<ellipse cx="1204.3" cy="473.8" rx="10.1" ry="9.4" fill="#161616" stroke="#111" stroke-width="1" transform="rotate(-25 1206.1 475.0)"/>
<ellipse cx="1207.9" cy="476.6" rx="7.1" ry="7.9" fill="#2a6fe0" stroke="#0b2a66" stroke-width="1.3" transform="rotate(-25 1206.1 475.0)"/>
<ellipse cx="1208.3" cy="477.0" rx="5.1" ry="5.8" fill="none" stroke="#0b2a66" stroke-width="1.1" transform="rotate(-25 1206.1 475.0)"/>
<ellipse cx="1001.8" cy="558.7" rx="10.4" ry="9.6" fill="#161616" stroke="#111" stroke-width="1" transform="rotate(-25 1003.6 559.9)"/>
<ellipse cx="1005.4" cy="561.5" rx="7.3" ry="8.1" fill="#2a6fe0" stroke="#0b2a66" stroke-width="1.3" transform="rotate(-25 1003.6 559.9)"/>
<ellipse cx="1005.8" cy="561.9" rx="5.2" ry="6.0" fill="none" stroke="#0b2a66" stroke-width="1.1" transform="rotate(-25 1003.6 559.9)"/>
<ellipse cx="976.0" cy="569.5" rx="10.4" ry="9.7" fill="#1c1c1c" stroke="#111" stroke-width="1" transform="rotate(-25 977.8 570.7)"/>
<ellipse cx="979.6" cy="572.3" rx="7.3" ry="8.1" fill="#2a2a2a" stroke="#b9a36a" stroke-width="1.3" transform="rotate(-25 977.8 570.7)"/>
<ellipse cx="980.0" cy="572.7" rx="5.2" ry="6.0" fill="none" stroke="#b9a36a" stroke-width="1.1" transform="rotate(-25 977.8 570.7)"/>
<polygon points="964.9,560.4 1118.3,496.0 1118.3,485.5 964.9,549.9" fill="#a4a4a4" stroke="#141414" stroke-width="1.55" stroke-linejoin="round" />
<polygon points="964.9,549.9 1118.3,485.5 1079.9,455.7 926.5,519.2" fill="#9a9a9a" stroke="#141414" stroke-width="1.55" stroke-linejoin="round" />
<g transform="rotate(-8 1373.2 351.6)">
<path d="M1364.2 351.6 v4.4 a9.0 5.5 0 0 0 18.0 0 v-4.4 z" fill="#2e2e2e" stroke="#141414" stroke-width="1.55"/>
<ellipse cx="1373.2" cy="351.6" rx="9.0" ry="5.5" fill="#8e8e8e" stroke="#141414" stroke-width="1.55"/>
</g>
<g transform="rotate(-8 1392.4 365.7)">
<path d="M1383.4 365.7 v4.4 a9.0 5.5 0 0 0 18.0 0 v-4.4 z" fill="#2e2e2e" stroke="#141414" stroke-width="1.55"/>
<ellipse cx="1392.4" cy="365.7" rx="9.0" ry="5.5" fill="#8e8e8e" stroke="#141414" stroke-width="1.55"/>
</g>
<path d="M1118.3 485.5 L1118.3 496.0 L1375.4 388.2 Q1390.9 377.3 1376.7 365.6 L1376.7 355.1 Q1390.9 366.8 1375.4 377.7 Z" fill="#2f2f2f" stroke="#e6e6e6" stroke-width="1.1" stroke-linejoin="round" />
<path d="M1118.3 485.5 L1375.4 377.7 Q1395.2 367.2 1376.7 355.1 Q1354.9 343.2 1329.7 352.5 L1079.9 455.7 Z" fill="#424242" stroke="#e6e6e6" stroke-width="1.1" stroke-linejoin="round" />
<polyline points="1368.1,380.8 1329.7,352.5" fill="none" stroke="#e6e6e6" stroke-width="1.1" stroke-linejoin="round" stroke-linecap="round" />
<polyline points="1368.1,380.8 1368.1,391.3" fill="none" stroke="#e6e6e6" stroke-width="1.1" stroke-linejoin="round" stroke-linecap="round" />
<polygon points="1073.8,481.2 1101.7,469.6 1082.5,454.7 1054.6,466.2" fill="#424242" stroke="none" stroke-width="0" stroke-linejoin="round" />
<polyline points="1099.1,470.6 1073.8,481.2 1054.6,466.2 1079.9,455.7" fill="none" stroke="#e6e6e6" stroke-width="1.1" stroke-linejoin="round" stroke-linecap="round" />
<g transform="rotate(-8 1076.9 463.9)">
<path d="M1067.6 463.9 v4.6 a9.3 5.7 0 0 0 18.6 0 v-4.6 z" fill="#1e1e1e" stroke="#e6e6e6" stroke-width="1.55"/>
<ellipse cx="1076.9" cy="463.9" rx="9.3" ry="5.7" fill="#484848" stroke="#e6e6e6" stroke-width="1.55"/>
</g>
<g transform="rotate(-8 1102.1 453.4)">
<path d="M1092.9 453.4 v4.5 a9.3 5.6 0 0 0 18.6 0 v-4.5 z" fill="#1e1e1e" stroke="#e6e6e6" stroke-width="1.55"/>
<ellipse cx="1102.1" cy="453.4" rx="9.3" ry="5.6" fill="#484848" stroke="#e6e6e6" stroke-width="1.55"/>
</g>
<g transform="rotate(-8 1127.3 443.0)">
<path d="M1118.0 443.0 v4.5 a9.3 5.6 0 0 0 18.5 0 v-4.5 z" fill="#1e1e1e" stroke="#e6e6e6" stroke-width="1.55"/>
<ellipse cx="1127.3" cy="443.0" rx="9.3" ry="5.6" fill="#484848" stroke="#e6e6e6" stroke-width="1.55"/>
</g>
<g transform="rotate(-8 1152.3 432.6)">
<path d="M1143.1 432.6 v4.5 a9.2 5.6 0 0 0 18.5 0 v-4.5 z" fill="#1e1e1e" stroke="#e6e6e6" stroke-width="1.55"/>
<ellipse cx="1152.3" cy="432.6" rx="9.2" ry="5.6" fill="#484848" stroke="#e6e6e6" stroke-width="1.55"/>
</g>
<g transform="rotate(-8 1177.3 422.3)">
<path d="M1168.1 422.3 v4.5 a9.2 5.6 0 0 0 18.4 0 v-4.5 z" fill="#1e1e1e" stroke="#e6e6e6" stroke-width="1.55"/>
<ellipse cx="1177.3" cy="422.3" rx="9.2" ry="5.6" fill="#484848" stroke="#e6e6e6" stroke-width="1.55"/>
</g>
<g transform="rotate(-8 1202.1 412.0)">
<path d="M1192.9 412.0 v4.5 a9.2 5.6 0 0 0 18.4 0 v-4.5 z" fill="#1e1e1e" stroke="#e6e6e6" stroke-width="1.55"/>
<ellipse cx="1202.1" cy="412.0" rx="9.2" ry="5.6" fill="#484848" stroke="#e6e6e6" stroke-width="1.55"/>
</g>
<g transform="rotate(-8 1226.9 401.7)">
<path d="M1217.7 401.7 v4.5 a9.1 5.6 0 0 0 18.3 0 v-4.5 z" fill="#1e1e1e" stroke="#e6e6e6" stroke-width="1.55"/>
<ellipse cx="1226.9" cy="401.7" rx="9.1" ry="5.6" fill="#484848" stroke="#e6e6e6" stroke-width="1.55"/>
</g>
<g transform="rotate(-8 1251.5 391.5)">
<path d="M1242.4 391.5 v4.5 a9.1 5.5 0 0 0 18.2 0 v-4.5 z" fill="#1e1e1e" stroke="#e6e6e6" stroke-width="1.55"/>
<ellipse cx="1251.5" cy="391.5" rx="9.1" ry="5.5" fill="#484848" stroke="#e6e6e6" stroke-width="1.55"/>
</g>
<g transform="rotate(-8 1276.0 381.4)">
<path d="M1266.9 381.4 v4.5 a9.1 5.5 0 0 0 18.2 0 v-4.5 z" fill="#1e1e1e" stroke="#e6e6e6" stroke-width="1.55"/>
<ellipse cx="1276.0" cy="381.4" rx="9.1" ry="5.5" fill="#484848" stroke="#e6e6e6" stroke-width="1.55"/>
</g>
<g transform="rotate(-8 1300.5 371.2)">
<path d="M1291.4 371.2 v4.4 a9.1 5.5 0 0 0 18.1 0 v-4.4 z" fill="#1e1e1e" stroke="#e6e6e6" stroke-width="1.55"/>
<ellipse cx="1300.5" cy="371.2" rx="9.1" ry="5.5" fill="#484848" stroke="#e6e6e6" stroke-width="1.55"/>
</g>
<g transform="rotate(-8 1324.8 361.2)">
<path d="M1315.8 361.2 v4.4 a9.0 5.5 0 0 0 18.1 0 v-4.4 z" fill="#1e1e1e" stroke="#e6e6e6" stroke-width="1.55"/>
<ellipse cx="1324.8" cy="361.2" rx="9.0" ry="5.5" fill="#484848" stroke="#e6e6e6" stroke-width="1.55"/>
</g>
<g transform="rotate(-8 1295.2 395.7)">
<path d="M1286.1 395.7 v4.5 a9.1 5.5 0 0 0 18.2 0 v-4.5 z" fill="#1e1e1e" stroke="#e6e6e6" stroke-width="1.55"/>
<ellipse cx="1295.2" cy="395.7" rx="9.1" ry="5.5" fill="#484848" stroke="#e6e6e6" stroke-width="1.55"/>
</g>
<g transform="rotate(-8 1319.7 385.5)">
<path d="M1310.6 385.5 v4.4 a9.1 5.5 0 0 0 18.1 0 v-4.4 z" fill="#1e1e1e" stroke="#e6e6e6" stroke-width="1.55"/>
<ellipse cx="1319.7" cy="385.5" rx="9.1" ry="5.5" fill="#484848" stroke="#e6e6e6" stroke-width="1.55"/>
</g>
<g transform="rotate(-8 1344.0 375.3)">
<path d="M1335.0 375.3 v4.4 a9.0 5.5 0 0 0 18.1 0 v-4.4 z" fill="#1e1e1e" stroke="#e6e6e6" stroke-width="1.55"/>
<ellipse cx="1344.0" cy="375.3" rx="9.0" ry="5.5" fill="#484848" stroke="#e6e6e6" stroke-width="1.55"/>
</g>
<polygon points="964.9,549.9 1292.6,412.5 1292.6,402.0 964.9,539.4" fill="#707070" stroke="#141414" stroke-width="1.55" stroke-linejoin="round" />
<polygon points="1118.3,475.0 1292.6,402.0 1273.4,387.6 1099.1,460.1" fill="#7a7a7a" stroke="#141414" stroke-width="1.55" stroke-linejoin="round" />
<g transform="rotate(-8 1121.3 457.8)">
<path d="M1112.1 457.8 v4.5 a9.3 5.6 0 0 0 18.6 0 v-4.5 z" fill="#1e1e1e" stroke="#141414" stroke-width="1.55"/>
<ellipse cx="1121.3" cy="457.8" rx="9.3" ry="5.6" fill="#5a5a5a" stroke="#141414" stroke-width="1.55"/>
</g>
<g transform="rotate(-8 1146.5 447.3)">
<path d="M1137.2 447.3 v4.5 a9.3 5.6 0 0 0 18.5 0 v-4.5 z" fill="#1e1e1e" stroke="#141414" stroke-width="1.55"/>
<ellipse cx="1146.5" cy="447.3" rx="9.3" ry="5.6" fill="#5a5a5a" stroke="#141414" stroke-width="1.55"/>
</g>
<g transform="rotate(-8 1171.5 436.8)">
<path d="M1162.3 436.8 v4.5 a9.2 5.6 0 0 0 18.5 0 v-4.5 z" fill="#1e1e1e" stroke="#141414" stroke-width="1.55"/>
<ellipse cx="1171.5" cy="436.8" rx="9.2" ry="5.6" fill="#5a5a5a" stroke="#141414" stroke-width="1.55"/>
</g>
<g transform="rotate(-8 1196.5 426.4)">
<path d="M1187.3 426.4 v4.5 a9.2 5.6 0 0 0 18.4 0 v-4.5 z" fill="#1e1e1e" stroke="#141414" stroke-width="1.55"/>
<ellipse cx="1196.5" cy="426.4" rx="9.2" ry="5.6" fill="#5a5a5a" stroke="#141414" stroke-width="1.55"/>
</g>
<g transform="rotate(-8 1221.3 416.0)">
<path d="M1212.1 416.0 v4.5 a9.2 5.6 0 0 0 18.4 0 v-4.5 z" fill="#1e1e1e" stroke="#141414" stroke-width="1.55"/>
<ellipse cx="1221.3" cy="416.0" rx="9.2" ry="5.6" fill="#5a5a5a" stroke="#141414" stroke-width="1.55"/>
</g>
<g transform="rotate(-8 1246.1 405.7)">
<path d="M1236.9 405.7 v4.5 a9.1 5.6 0 0 0 18.3 0 v-4.5 z" fill="#1e1e1e" stroke="#141414" stroke-width="1.55"/>
<ellipse cx="1246.1" cy="405.7" rx="9.1" ry="5.6" fill="#5a5a5a" stroke="#141414" stroke-width="1.55"/>
</g>
<g transform="rotate(-8 1270.7 395.4)">
<path d="M1261.6 395.4 v4.5 a9.1 5.5 0 0 0 18.2 0 v-4.5 z" fill="#1e1e1e" stroke="#141414" stroke-width="1.55"/>
<ellipse cx="1270.7" cy="395.4" rx="9.1" ry="5.5" fill="#5a5a5a" stroke="#141414" stroke-width="1.55"/>
</g>
<polygon points="194.5,936.0 156.1,901.0 156.1,848.5 194.5,883.5" fill="#9d9d9d" stroke="#141414" stroke-width="1.55" stroke-linejoin="round" />
<polygon points="175.3,918.5 156.1,901.0 156.1,848.5 175.3,866.0" fill="#b0b0b0" stroke="#141414" stroke-width="1.55" stroke-linejoin="round" />
<polygon points="194.5,936.0 175.3,918.5 175.3,866.0 194.5,883.5" fill="#7c7c7c" stroke="#141414" stroke-width="1.55" stroke-linejoin="round" />
<polygon points="157.0,890.1 174.5,899.4 176.3,910.2 194.5,926.4 194.5,936.4 157.0,900.2" fill="#6e6e6e" stroke="#141414" stroke-width="1.55" stroke-linejoin="round" />
<polygon points="157.0,890.1 163.8,887.6 175.0,896.4 174.5,899.4" fill="#a8a8a8" stroke="#141414" stroke-width="0.9" stroke-linejoin="round" />
<ellipse cx="171.5" cy="897.6" rx="2.2" ry="3" fill="#ffd800" stroke="#333" stroke-width="0.6"/>
<polygon points="194.5,883.5 700.4,671.3 662.0,639.1 156.1,848.5" fill="#929292" stroke="#141414" stroke-width="1.55" stroke-linejoin="round" />
<g transform="rotate(-8 181.8 845.6)">
<path d="M171.6 845.6 v5.0 a10.2 6.2 0 0 0 20.4 0 v-5.0 z" fill="#2e2e2e" stroke="#141414" stroke-width="1.55"/>
<ellipse cx="181.8" cy="845.6" rx="10.2" ry="6.2" fill="#8e8e8e" stroke="#141414" stroke-width="1.55"/>
</g>
<g transform="rotate(-8 201.0 863.0)">
<path d="M190.8 863.0 v5.0 a10.2 6.2 0 0 0 20.4 0 v-5.0 z" fill="#2e2e2e" stroke="#141414" stroke-width="1.55"/>
<ellipse cx="201.0" cy="863.0" rx="10.2" ry="6.2" fill="#8e8e8e" stroke="#141414" stroke-width="1.55"/>
</g>
<polygon points="194.5,936.0 700.4,723.8 700.4,713.3 194.5,925.5" fill="#7a7a7a" stroke="#141414" stroke-width="1.55" stroke-linejoin="round" />
<polygon points="194.5,925.5 367.6,852.9 367.6,842.4 194.5,915.0" fill="#8a8a8a" stroke="#141414" stroke-width="1.55" stroke-linejoin="round" />
<polygon points="367.6,852.9 536.2,782.2 536.2,771.7 367.6,842.4" fill="#b2b2b2" stroke="#141414" stroke-width="1.55" stroke-linejoin="round" />
<polygon points="536.2,782.2 591.4,759.0 591.4,748.5 536.2,771.7" fill="#8a8a8a" stroke="#141414" stroke-width="1.55" stroke-linejoin="round" />
<polygon points="591.4,759.0 700.4,713.3 700.4,702.8 591.4,748.5" fill="#a9a9a9" stroke="#141414" stroke-width="1.55" stroke-linejoin="round" />
<polygon points="536.2,792.7 700.4,723.8 700.4,713.3 536.2,782.2" fill="#7a7a7a" stroke="#141414" stroke-width="1.55" stroke-linejoin="round" />
<polygon points="194.5,915.0 310.4,866.4 310.4,834.9 194.5,883.5" fill="#868686" stroke="#141414" stroke-width="1.55" stroke-linejoin="round" />
<polygon points="310.4,866.4 424.3,818.6 424.3,787.1 310.4,834.9" fill="#868686" stroke="#141414" stroke-width="1.55" stroke-linejoin="round" />
<polygon points="424.3,818.6 452.4,806.8 452.4,775.3 424.3,787.1" fill="#1f66d1" stroke="#141414" stroke-width="1.55" stroke-linejoin="round" />
<polygon points="452.4,806.8 563.8,760.1 563.8,728.6 452.4,775.3" fill="#868686" stroke="#141414" stroke-width="1.55" stroke-linejoin="round" />
<polygon points="563.8,760.1 646.1,725.6 646.1,694.1 563.8,728.6" fill="#a6e04a" stroke="#141414" stroke-width="1.55" stroke-linejoin="round" />
<polygon points="646.1,725.6 673.3,714.2 673.3,682.7 646.1,694.1" fill="#1f66d1" stroke="#141414" stroke-width="1.55" stroke-linejoin="round" />
<polygon points="673.3,714.2 700.4,702.8 700.4,671.3 673.3,682.7" fill="#ffd500" stroke="#141414" stroke-width="1.55" stroke-linejoin="round" />
<polyline points="563.8,749.6 646.1,715.1" fill="none" stroke="#141414" stroke-width="1.55" stroke-linejoin="round" stroke-linecap="round" />
<polyline points="563.8,739.1 646.1,704.6" fill="none" stroke="#141414" stroke-width="1.55" stroke-linejoin="round" stroke-linecap="round" />
<polygon points="591.4,727.5 646.1,704.6 646.1,694.1 591.4,717.0" fill="#a4a4a4" stroke="#141414" stroke-width="1.55" stroke-linejoin="round" />
<polygon points="563.8,737.0 580.4,730.1 588.6,718.2 563.8,728.6" fill="#2b2b2b" stroke="#141414" stroke-width="0.8" stroke-linejoin="round" />
<ellipse cx="207.3" cy="891.9" rx="11.3" ry="10.5" fill="#1c1c1c" stroke="#111" stroke-width="1" transform="rotate(-25 209.1 893.1)"/>
<ellipse cx="210.9" cy="894.7" rx="8.0" ry="8.8" fill="#808080" stroke="#141414" stroke-width="1.3" transform="rotate(-25 209.1 893.1)"/>
<ellipse cx="211.3" cy="895.1" rx="5.7" ry="6.5" fill="none" stroke="#141414" stroke-width="1.1" transform="rotate(-25 209.1 893.1)"/>
<ellipse cx="236.4" cy="879.7" rx="11.3" ry="10.5" fill="#1c1c1c" stroke="#111" stroke-width="1" transform="rotate(-25 238.2 880.9)"/>
<ellipse cx="240.0" cy="882.5" rx="7.9" ry="8.8" fill="#808080" stroke="#141414" stroke-width="1.3" transform="rotate(-25 238.2 880.9)"/>
<ellipse cx="240.4" cy="882.9" rx="5.6" ry="6.5" fill="none" stroke="#141414" stroke-width="1.1" transform="rotate(-25 238.2 880.9)"/>
<ellipse cx="265.4" cy="867.6" rx="11.3" ry="10.4" fill="#1c1c1c" stroke="#111" stroke-width="1" transform="rotate(-25 267.2 868.8)"/>
<ellipse cx="269.0" cy="870.4" rx="7.9" ry="8.8" fill="#808080" stroke="#141414" stroke-width="1.3" transform="rotate(-25 267.2 868.8)"/>
<ellipse cx="269.4" cy="870.8" rx="5.6" ry="6.5" fill="none" stroke="#141414" stroke-width="1.1" transform="rotate(-25 267.2 868.8)"/>
<ellipse cx="294.2" cy="855.5" rx="11.2" ry="10.4" fill="#1c1c1c" stroke="#111" stroke-width="1" transform="rotate(-25 296.0 856.7)"/>
<ellipse cx="297.8" cy="858.3" rx="7.9" ry="8.7" fill="#808080" stroke="#141414" stroke-width="1.3" transform="rotate(-25 296.0 856.7)"/>
<ellipse cx="298.2" cy="858.7" rx="5.6" ry="6.4" fill="none" stroke="#141414" stroke-width="1.1" transform="rotate(-25 296.0 856.7)"/>
<ellipse cx="323.0" cy="843.4" rx="11.2" ry="10.4" fill="#1c1c1c" stroke="#111" stroke-width="1" transform="rotate(-25 324.8 844.6)"/>
<ellipse cx="326.6" cy="846.2" rx="7.9" ry="8.7" fill="#808080" stroke="#141414" stroke-width="1.3" transform="rotate(-25 324.8 844.6)"/>
<ellipse cx="327.0" cy="846.6" rx="5.6" ry="6.4" fill="none" stroke="#141414" stroke-width="1.1" transform="rotate(-25 324.8 844.6)"/>
<ellipse cx="351.5" cy="831.4" rx="11.2" ry="10.3" fill="#1c1c1c" stroke="#111" stroke-width="1" transform="rotate(-25 353.3 832.6)"/>
<ellipse cx="355.1" cy="834.2" rx="7.9" ry="8.7" fill="#808080" stroke="#141414" stroke-width="1.3" transform="rotate(-25 353.3 832.6)"/>
<ellipse cx="355.5" cy="834.6" rx="5.6" ry="6.4" fill="none" stroke="#141414" stroke-width="1.1" transform="rotate(-25 353.3 832.6)"/>
<ellipse cx="380.0" cy="819.5" rx="11.1" ry="10.3" fill="#1c1c1c" stroke="#111" stroke-width="1" transform="rotate(-25 381.8 820.7)"/>
<ellipse cx="383.6" cy="822.3" rx="7.8" ry="8.7" fill="#808080" stroke="#141414" stroke-width="1.3" transform="rotate(-25 381.8 820.7)"/>
<ellipse cx="384.0" cy="822.7" rx="5.6" ry="6.4" fill="none" stroke="#141414" stroke-width="1.1" transform="rotate(-25 381.8 820.7)"/>
<ellipse cx="408.4" cy="807.6" rx="11.1" ry="10.3" fill="#1c1c1c" stroke="#111" stroke-width="1" transform="rotate(-25 410.2 808.8)"/>
<ellipse cx="412.0" cy="810.4" rx="7.8" ry="8.6" fill="#808080" stroke="#141414" stroke-width="1.3" transform="rotate(-25 410.2 808.8)"/>
<ellipse cx="412.4" cy="810.8" rx="5.5" ry="6.4" fill="none" stroke="#141414" stroke-width="1.1" transform="rotate(-25 410.2 808.8)"/>
<ellipse cx="464.7" cy="784.0" rx="11.0" ry="10.2" fill="#1c1c1c" stroke="#111" stroke-width="1" transform="rotate(-25 466.5 785.2)"/>
<ellipse cx="468.3" cy="786.8" rx="7.8" ry="8.6" fill="#808080" stroke="#141414" stroke-width="1.3" transform="rotate(-25 466.5 785.2)"/>
<ellipse cx="468.7" cy="787.2" rx="5.5" ry="6.3" fill="none" stroke="#141414" stroke-width="1.1" transform="rotate(-25 466.5 785.2)"/>
<ellipse cx="492.6" cy="772.3" rx="11.0" ry="10.2" fill="#1c1c1c" stroke="#111" stroke-width="1" transform="rotate(-25 494.4 773.5)"/>
<ellipse cx="496.2" cy="775.1" rx="7.7" ry="8.6" fill="#808080" stroke="#141414" stroke-width="1.3" transform="rotate(-25 494.4 773.5)"/>
<ellipse cx="496.6" cy="775.5" rx="5.5" ry="6.3" fill="none" stroke="#141414" stroke-width="1.1" transform="rotate(-25 494.4 773.5)"/>
<ellipse cx="520.5" cy="760.6" rx="11.0" ry="10.2" fill="#1c1c1c" stroke="#111" stroke-width="1" transform="rotate(-25 522.3 761.8)"/>
<ellipse cx="524.1" cy="763.4" rx="7.7" ry="8.5" fill="#808080" stroke="#141414" stroke-width="1.3" transform="rotate(-25 522.3 761.8)"/>
<ellipse cx="524.5" cy="763.8" rx="5.5" ry="6.3" fill="none" stroke="#141414" stroke-width="1.1" transform="rotate(-25 522.3 761.8)"/>
<ellipse cx="548.2" cy="748.9" rx="10.9" ry="10.1" fill="#1c1c1c" stroke="#111" stroke-width="1" transform="rotate(-25 550.0 750.1)"/>
<ellipse cx="551.8" cy="751.7" rx="7.7" ry="8.5" fill="#808080" stroke="#141414" stroke-width="1.3" transform="rotate(-25 550.0 750.1)"/>
<ellipse cx="552.2" cy="752.1" rx="5.5" ry="6.3" fill="none" stroke="#141414" stroke-width="1.1" transform="rotate(-25 550.0 750.1)"/>
<ellipse cx="436.6" cy="795.8" rx="11.1" ry="10.2" fill="#161616" stroke="#111" stroke-width="1" transform="rotate(-25 438.4 797.0)"/>
<ellipse cx="440.2" cy="798.6" rx="7.8" ry="8.6" fill="#2a6fe0" stroke="#0b2a66" stroke-width="1.3" transform="rotate(-25 438.4 797.0)"/>
<ellipse cx="440.6" cy="799.0" rx="5.5" ry="6.4" fill="none" stroke="#0b2a66" stroke-width="1.1" transform="rotate(-25 438.4 797.0)"/>
<ellipse cx="657.9" cy="702.9" rx="10.8" ry="10.0" fill="#161616" stroke="#111" stroke-width="1" transform="rotate(-25 659.7 704.1)"/>
<ellipse cx="661.5" cy="705.7" rx="7.6" ry="8.4" fill="#2a6fe0" stroke="#0b2a66" stroke-width="1.3" transform="rotate(-25 659.7 704.1)"/>
<ellipse cx="661.9" cy="706.1" rx="5.4" ry="6.2" fill="none" stroke="#0b2a66" stroke-width="1.1" transform="rotate(-25 659.7 704.1)"/>
<ellipse cx="685.1" cy="691.5" rx="10.8" ry="10.0" fill="#1c1c1c" stroke="#111" stroke-width="1" transform="rotate(-25 686.9 692.7)"/>
<ellipse cx="688.7" cy="694.3" rx="7.6" ry="8.4" fill="#2a2a2a" stroke="#b9a36a" stroke-width="1.3" transform="rotate(-25 686.9 692.7)"/>
<ellipse cx="689.1" cy="694.7" rx="5.4" ry="6.2" fill="none" stroke="#b9a36a" stroke-width="1.1" transform="rotate(-25 686.9 692.7)"/>
<polygon points="536.2,740.2 700.4,671.3 700.4,660.8 536.2,729.7" fill="#a4a4a4" stroke="#141414" stroke-width="1.55" stroke-linejoin="round" />
<polygon points="536.2,729.7 700.4,660.8 662.0,628.6 497.8,696.5" fill="#9a9a9a" stroke="#141414" stroke-width="1.55" stroke-linejoin="round" />
<path d="M536.2 729.7 L536.2 740.2 L258.5 856.7 L242.1 861.0 Q215.1 859.6 203.5 849.1 L203.5 838.6 Q218.9 852.6 258.5 846.2 Z" fill="#2f2f2f" stroke="#e8e8e8" stroke-width="1.1" stroke-linejoin="round" />
<path d="M536.2 729.7 L497.8 696.5 L220.1 811.5 L214.3 813.9 Q180.4 825.4 207.4 842.1 Q233.4 858.0 258.5 846.2 Z" fill="#424242" stroke="#e8e8e8" stroke-width="1.1" stroke-linejoin="round" />
<polygon points="514.2,714.3 544.6,701.6 525.4,685.1 495.0,697.7" fill="#424242" stroke="none" stroke-width="0" stroke-linejoin="round" />
<polyline points="517.0,713.1 544.6,701.6 525.4,685.1 497.8,696.5" fill="none" stroke="#e8e8e8" stroke-width="1.1" stroke-linejoin="round" stroke-linecap="round" />
<polyline points="252.7,848.6 214.3,813.9" fill="none" stroke="#e8e8e8" stroke-width="1.1" stroke-linejoin="round" stroke-linecap="round" />
<polyline points="252.7,848.6 252.7,859.1" fill="none" stroke="#e8e8e8" stroke-width="1.1" stroke-linejoin="round" stroke-linecap="round" />
<g transform="rotate(-8 238.4 811.6)">
<path d="M228.2 811.6 v5.0 a10.1 6.2 0 0 0 20.3 0 v-5.0 z" fill="#1e1e1e" stroke="#e6e6e6" stroke-width="1.55"/>
<ellipse cx="238.4" cy="811.6" rx="10.1" ry="6.2" fill="#484848" stroke="#e6e6e6" stroke-width="1.55"/>
</g>
<g transform="rotate(-8 267.2 799.6)">
<path d="M257.1 799.6 v5.0 a10.1 6.1 0 0 0 20.2 0 v-5.0 z" fill="#1e1e1e" stroke="#e6e6e6" stroke-width="1.55"/>
<ellipse cx="267.2" cy="799.6" rx="10.1" ry="6.1" fill="#484848" stroke="#e6e6e6" stroke-width="1.55"/>
</g>
<g transform="rotate(-8 296.0 787.7)">
<path d="M285.9 787.7 v4.9 a10.1 6.1 0 0 0 20.2 0 v-4.9 z" fill="#1e1e1e" stroke="#e6e6e6" stroke-width="1.55"/>
<ellipse cx="296.0" cy="787.7" rx="10.1" ry="6.1" fill="#484848" stroke="#e6e6e6" stroke-width="1.55"/>
</g>
<g transform="rotate(-8 324.5 775.8)">
<path d="M314.5 775.8 v4.9 a10.1 6.1 0 0 0 20.1 0 v-4.9 z" fill="#1e1e1e" stroke="#e6e6e6" stroke-width="1.55"/>
<ellipse cx="324.5" cy="775.8" rx="10.1" ry="6.1" fill="#484848" stroke="#e6e6e6" stroke-width="1.55"/>
</g>
<g transform="rotate(-8 353.0 764.0)">
<path d="M343.0 764.0 v4.9 a10.0 6.1 0 0 0 20.1 0 v-4.9 z" fill="#1e1e1e" stroke="#e6e6e6" stroke-width="1.55"/>
<ellipse cx="353.0" cy="764.0" rx="10.0" ry="6.1" fill="#484848" stroke="#e6e6e6" stroke-width="1.55"/>
</g>
<g transform="rotate(-8 381.4 752.3)">
<path d="M371.4 752.3 v4.9 a10.0 6.1 0 0 0 20.0 0 v-4.9 z" fill="#1e1e1e" stroke="#e6e6e6" stroke-width="1.55"/>
<ellipse cx="381.4" cy="752.3" rx="10.0" ry="6.1" fill="#484848" stroke="#e6e6e6" stroke-width="1.55"/>
</g>
<g transform="rotate(-8 409.6 740.6)">
<path d="M399.6 740.6 v4.9 a10.0 6.1 0 0 0 19.9 0 v-4.9 z" fill="#1e1e1e" stroke="#e6e6e6" stroke-width="1.55"/>
<ellipse cx="409.6" cy="740.6" rx="10.0" ry="6.1" fill="#484848" stroke="#e6e6e6" stroke-width="1.55"/>
</g>
<g transform="rotate(-8 437.7 728.9)">
<path d="M427.7 728.9 v4.9 a9.9 6.0 0 0 0 19.9 0 v-4.9 z" fill="#1e1e1e" stroke="#e6e6e6" stroke-width="1.55"/>
<ellipse cx="437.7" cy="728.9" rx="9.9" ry="6.0" fill="#484848" stroke="#e6e6e6" stroke-width="1.55"/>
</g>
<g transform="rotate(-8 465.6 717.3)">
<path d="M455.7 717.3 v4.9 a9.9 6.0 0 0 0 19.8 0 v-4.9 z" fill="#1e1e1e" stroke="#e6e6e6" stroke-width="1.55"/>
<ellipse cx="465.6" cy="717.3" rx="9.9" ry="6.0" fill="#484848" stroke="#e6e6e6" stroke-width="1.55"/>
</g>
<g transform="rotate(-8 493.5 705.7)">
<path d="M483.6 705.7 v4.8 a9.9 6.0 0 0 0 19.8 0 v-4.8 z" fill="#1e1e1e" stroke="#e6e6e6" stroke-width="1.55"/>
<ellipse cx="493.5" cy="705.7" rx="9.9" ry="6.0" fill="#484848" stroke="#e6e6e6" stroke-width="1.55"/>
</g>
<g transform="rotate(-8 521.2 694.2)">
<path d="M511.3 694.2 v4.8 a9.9 6.0 0 0 0 19.7 0 v-4.8 z" fill="#1e1e1e" stroke="#e6e6e6" stroke-width="1.55"/>
<ellipse cx="521.2" cy="694.2" rx="9.9" ry="6.0" fill="#484848" stroke="#e6e6e6" stroke-width="1.55"/>
</g>
<g transform="rotate(-8 257.6 828.9)">
<path d="M247.4 828.9 v5.0 a10.1 6.2 0 0 0 20.3 0 v-5.0 z" fill="#1e1e1e" stroke="#e6e6e6" stroke-width="1.55"/>
<ellipse cx="257.6" cy="828.9" rx="10.1" ry="6.2" fill="#484848" stroke="#e6e6e6" stroke-width="1.55"/>
</g>
<g transform="rotate(-8 286.4 816.8)">
<path d="M276.3 816.8 v5.0 a10.1 6.1 0 0 0 20.2 0 v-5.0 z" fill="#1e1e1e" stroke="#e6e6e6" stroke-width="1.55"/>
<ellipse cx="286.4" cy="816.8" rx="10.1" ry="6.1" fill="#484848" stroke="#e6e6e6" stroke-width="1.55"/>
</g>
<g transform="rotate(-8 315.2 804.9)">
<path d="M305.1 804.9 v4.9 a10.1 6.1 0 0 0 20.2 0 v-4.9 z" fill="#1e1e1e" stroke="#e6e6e6" stroke-width="1.55"/>
<ellipse cx="315.2" cy="804.9" rx="10.1" ry="6.1" fill="#484848" stroke="#e6e6e6" stroke-width="1.55"/>
</g>
<polygon points="339.1,812.4 319.9,795.3 319.9,784.8 339.1,801.9" fill="#6b6b6b" stroke="#141414" stroke-width="1.55" stroke-linejoin="round" />
<polygon points="339.1,812.4 964.9,549.9 964.9,539.4 339.1,801.9" fill="#707070" stroke="#141414" stroke-width="1.55" stroke-linejoin="round" />
<polygon points="339.1,801.9 536.2,719.2 517.0,702.6 319.9,784.8" fill="#7a7a7a" stroke="#141414" stroke-width="1.55" stroke-linejoin="round" />
<g transform="rotate(-8 343.7 782.4)">
<path d="M333.7 782.4 v4.9 a10.1 6.1 0 0 0 20.1 0 v-4.9 z" fill="#1e1e1e" stroke="#141414" stroke-width="1.55"/>
<ellipse cx="343.7" cy="782.4" rx="10.1" ry="6.1" fill="#5a5a5a" stroke="#141414" stroke-width="1.55"/>
</g>
<g transform="rotate(-8 372.2 770.5)">
<path d="M362.2 770.5 v4.9 a10.0 6.1 0 0 0 20.1 0 v-4.9 z" fill="#1e1e1e" stroke="#141414" stroke-width="1.55"/>
<ellipse cx="372.2" cy="770.5" rx="10.0" ry="6.1" fill="#5a5a5a" stroke="#141414" stroke-width="1.55"/>
</g>
<g transform="rotate(-8 400.6 758.7)">
<path d="M390.6 758.7 v4.9 a10.0 6.1 0 0 0 20.0 0 v-4.9 z" fill="#1e1e1e" stroke="#141414" stroke-width="1.55"/>
<ellipse cx="400.6" cy="758.7" rx="10.0" ry="6.1" fill="#5a5a5a" stroke="#141414" stroke-width="1.55"/>
</g>
<g transform="rotate(-8 428.8 746.9)">
<path d="M418.8 746.9 v4.9 a10.0 6.1 0 0 0 19.9 0 v-4.9 z" fill="#1e1e1e" stroke="#141414" stroke-width="1.55"/>
<ellipse cx="428.8" cy="746.9" rx="10.0" ry="6.1" fill="#5a5a5a" stroke="#141414" stroke-width="1.55"/>
</g>
<g transform="rotate(-8 456.9 735.2)">
<path d="M446.9 735.2 v4.9 a9.9 6.0 0 0 0 19.9 0 v-4.9 z" fill="#1e1e1e" stroke="#141414" stroke-width="1.55"/>
<ellipse cx="456.9" cy="735.2" rx="9.9" ry="6.0" fill="#5a5a5a" stroke="#141414" stroke-width="1.55"/>
</g>
<g transform="rotate(-8 484.8 723.5)">
<path d="M474.9 723.5 v4.9 a9.9 6.0 0 0 0 19.8 0 v-4.9 z" fill="#1e1e1e" stroke="#141414" stroke-width="1.55"/>
<ellipse cx="484.8" cy="723.5" rx="9.9" ry="6.0" fill="#5a5a5a" stroke="#141414" stroke-width="1.55"/>
</g>
<g transform="rotate(-8 512.7 711.9)">
<path d="M502.8 711.9 v4.8 a9.9 6.0 0 0 0 19.8 0 v-4.8 z" fill="#1e1e1e" stroke="#141414" stroke-width="1.55"/>
<ellipse cx="512.7" cy="711.9" rx="9.9" ry="6.0" fill="#5a5a5a" stroke="#141414" stroke-width="1.55"/>
</g>
<polygon points="507.3,696.7 513.2,691.4 523.6,687.8 518.4,694.1 513.2,703.2 507.9,704.5" fill="#ffd800" stroke="#141414" stroke-width="1.0" stroke-linejoin="round" />
<polyline points="509.9,696.0 511.6,703.2" fill="none" stroke="#141414" stroke-width="2.2" stroke-linejoin="round" stroke-linecap="round" />
<polyline points="513.8,692.1 515.8,699.9" fill="none" stroke="#141414" stroke-width="2.2" stroke-linejoin="round" stroke-linecap="round" />
<polygon points="536.2,719.2 517.0,702.6 517.0,692.1 536.2,708.7" fill="#9a9a9a" stroke="#141414" stroke-width="1.55" stroke-linejoin="round" />
<polygon points="536.2,708.7 1118.3,464.5 1099.1,449.6 517.0,692.1" fill="#a9a9a9" stroke="#141414" stroke-width="1.55" stroke-linejoin="round" />
<polygon points="536.2,719.2 1118.3,475.0 1118.3,464.5 536.2,708.7" fill="#a9a9a9" stroke="#141414" stroke-width="1.55" stroke-linejoin="round" />
<g transform="rotate(-8 540.4 689.8)">
<path d="M530.5 689.8 v4.8 a9.9 6.0 0 0 0 19.7 0 v-4.8 z" fill="#2e2e2e" stroke="#141414" stroke-width="1.55"/>
<ellipse cx="540.4" cy="689.8" rx="9.9" ry="6.0" fill="#9a9a9a" stroke="#141414" stroke-width="1.55"/>
</g>
<g transform="rotate(-8 568.0 678.3)">
<path d="M558.2 678.3 v4.8 a9.8 6.0 0 0 0 19.7 0 v-4.8 z" fill="#2e2e2e" stroke="#141414" stroke-width="1.55"/>
<ellipse cx="568.0" cy="678.3" rx="9.8" ry="6.0" fill="#9a9a9a" stroke="#141414" stroke-width="1.55"/>
</g>
<polygon points="700.4,671.3 756.9,647.6 756.9,637.1 700.4,660.8" fill="#b2b2b2" stroke="#141414" stroke-width="1.55" stroke-linejoin="round" />
<polygon points="915.5,581.1 964.9,560.4 964.9,549.9 915.5,570.6" fill="#a9a9a9" stroke="#141414" stroke-width="1.55" stroke-linejoin="round" />
<polygon points="915.5,591.6 946.7,578.5 946.7,568.0 915.5,581.1" fill="#8f8f8f" stroke="#141414" stroke-width="1.55" stroke-linejoin="round" />
<polygon points="754.0,618.3 805.0,597.7 802.3,604.2 791.9,610.8 754.0,627.5" fill="#c2c2c2" stroke="#141414" stroke-width="1.0" stroke-linejoin="round" />
<polyline points="780.9,616.6 780.9,606.1" fill="none" stroke="#141414" stroke-width="1.55" stroke-linejoin="round" stroke-linecap="round" />
<polyline points="886.7,572.2 886.7,561.7" fill="none" stroke="#141414" stroke-width="1.55" stroke-linejoin="round" stroke-linecap="round" />
<polyline points="964.9,549.9 964.9,539.4" fill="none" stroke="#141414" stroke-width="1.55" stroke-linejoin="round" stroke-linecap="round" />
<polygon points="646.1,662.6 607.7,630.0 607.7,619.5 646.1,652.1" fill="#6b6b6b" stroke="#141414" stroke-width="1.55" stroke-linejoin="round" />
<polygon points="646.1,662.6 700.4,639.8 700.4,629.3 646.1,652.1" fill="#777" stroke="#141414" stroke-width="1.55" stroke-linejoin="round" />
<polygon points="646.1,652.1 700.4,629.3 662.0,597.1 607.7,619.5" fill="#7c7c7c" stroke="#141414" stroke-width="1.55" stroke-linejoin="round" />
<g transform="rotate(-8 630.9 617.2)">
<path d="M621.2 617.2 v4.8 a9.8 5.9 0 0 0 19.5 0 v-4.8 z" fill="#1e1e1e" stroke="#141414" stroke-width="1.55"/>
<ellipse cx="630.9" cy="617.2" rx="9.8" ry="5.9" fill="#5e5e5e" stroke="#141414" stroke-width="1.55"/>
</g>
<g transform="rotate(-8 658.1 606.0)">
<path d="M648.3 606.0 v4.8 a9.7 5.9 0 0 0 19.5 0 v-4.8 z" fill="#1e1e1e" stroke="#141414" stroke-width="1.55"/>
<ellipse cx="658.1" cy="606.0" rx="9.7" ry="5.9" fill="#5e5e5e" stroke="#141414" stroke-width="1.55"/>
</g>
<g transform="rotate(-8 650.1 633.5)">
<path d="M640.4 633.5 v4.8 a9.8 5.9 0 0 0 19.5 0 v-4.8 z" fill="#1e1e1e" stroke="#141414" stroke-width="1.55"/>
<ellipse cx="650.1" cy="633.5" rx="9.8" ry="5.9" fill="#5e5e5e" stroke="#141414" stroke-width="1.55"/>
</g>
<g transform="rotate(-8 677.3 622.1)">
<path d="M667.5 622.1 v4.8 a9.7 5.9 0 0 0 19.5 0 v-4.8 z" fill="#1e1e1e" stroke="#141414" stroke-width="1.55"/>
<ellipse cx="677.3" cy="622.1" rx="9.7" ry="5.9" fill="#5e5e5e" stroke="#141414" stroke-width="1.55"/>
</g>
<polygon points="700.4,639.8 754.2,617.3 754.2,606.8 700.4,629.3" fill="#777" stroke="#141414" stroke-width="1.55" stroke-linejoin="round" />
<polygon points="700.4,629.3 754.2,606.8 735.0,590.8 681.2,613.2" fill="#7c7c7c" stroke="#141414" stroke-width="1.55" stroke-linejoin="round" />
<polygon points="591.4,685.5 572.2,669.1 572.2,658.6 591.4,675.0" fill="#9a9a9a" stroke="#141414" stroke-width="1.55" stroke-linejoin="round" />
<polygon points="591.4,685.5 646.1,662.6 646.1,652.1 591.4,675.0" fill="#a9a9a9" stroke="#141414" stroke-width="1.55" stroke-linejoin="round" />
<polygon points="591.4,675.0 646.1,652.1 626.9,635.8 572.2,658.6" fill="#a9a9a9" stroke="#141414" stroke-width="1.55" stroke-linejoin="round" />
<g transform="rotate(-8 595.5 656.3)">
<path d="M585.7 656.3 v4.8 a9.8 6.0 0 0 0 19.6 0 v-4.8 z" fill="#2e2e2e" stroke="#141414" stroke-width="1.55"/>
<ellipse cx="595.5" cy="656.3" rx="9.8" ry="6.0" fill="#9a9a9a" stroke="#141414" stroke-width="1.55"/>
</g>
<g transform="rotate(-8 622.9 644.9)">
<path d="M613.1 644.9 v4.8 a9.8 5.9 0 0 0 19.6 0 v-4.8 z" fill="#2e2e2e" stroke="#141414" stroke-width="1.55"/>
<ellipse cx="622.9" cy="644.9" rx="9.8" ry="5.9" fill="#9a9a9a" stroke="#141414" stroke-width="1.55"/>
</g>
<polyline points="673.3,640.7 654.1,624.5 681.2,613.2" fill="none" stroke="#141414" stroke-width="1.55" stroke-linejoin="round" stroke-linecap="round" />
<polyline points="673.3,640.7 673.3,651.2" fill="none" stroke="#141414" stroke-width="1.55" stroke-linejoin="round" stroke-linecap="round" />
<polygon points="754.2,617.3 886.7,561.7 886.7,551.2 754.2,606.8" fill="#777" stroke="#141414" stroke-width="1.55" stroke-linejoin="round" />
<polygon points="754.2,606.8 886.7,551.2 867.5,535.6 735.0,590.8" fill="#7c7c7c" stroke="#141414" stroke-width="1.55" stroke-linejoin="round" />
<polygon points="886.7,561.7 1016.5,507.3 1016.5,496.8 886.7,551.2" fill="#777" stroke="#141414" stroke-width="1.55" stroke-linejoin="round" />
<polygon points="886.7,551.2 964.9,518.4 945.7,503.0 867.5,535.6" fill="#7c7c7c" stroke="#141414" stroke-width="1.55" stroke-linejoin="round" />
<polygon points="964.9,518.4 1016.5,496.8 978.1,466.3 926.5,487.7" fill="#7c7c7c" stroke="#141414" stroke-width="1.55" stroke-linejoin="round" />
<g transform="rotate(-8 704.3 610.9)">
<path d="M694.6 610.9 v4.8 a9.7 5.9 0 0 0 19.4 0 v-4.8 z" fill="#1e1e1e" stroke="#141414" stroke-width="1.55"/>
<ellipse cx="704.3" cy="610.9" rx="9.7" ry="5.9" fill="#5e5e5e" stroke="#141414" stroke-width="1.55"/>
</g>
<g transform="rotate(-8 731.2 599.6)">
<path d="M721.5 599.6 v4.7 a9.7 5.9 0 0 0 19.4 0 v-4.7 z" fill="#1e1e1e" stroke="#141414" stroke-width="1.55"/>
<ellipse cx="731.2" cy="599.6" rx="9.7" ry="5.9" fill="#5e5e5e" stroke="#141414" stroke-width="1.55"/>
</g>
<g transform="rotate(-8 758.0 588.4)">
<path d="M748.3 588.4 v4.7 a9.7 5.9 0 0 0 19.3 0 v-4.7 z" fill="#1e1e1e" stroke="#141414" stroke-width="1.55"/>
<ellipse cx="758.0" cy="588.4" rx="9.7" ry="5.9" fill="#5e5e5e" stroke="#141414" stroke-width="1.55"/>
</g>
<g transform="rotate(-8 784.7 577.3)">
<path d="M775.0 577.3 v4.7 a9.6 5.9 0 0 0 19.3 0 v-4.7 z" fill="#1e1e1e" stroke="#141414" stroke-width="1.55"/>
<ellipse cx="784.7" cy="577.3" rx="9.6" ry="5.9" fill="#5e5e5e" stroke="#141414" stroke-width="1.55"/>
</g>
<g transform="rotate(-8 811.2 566.2)">
<path d="M801.6 566.2 v4.7 a9.6 5.8 0 0 0 19.2 0 v-4.7 z" fill="#1e1e1e" stroke="#141414" stroke-width="1.55"/>
<ellipse cx="811.2" cy="566.2" rx="9.6" ry="5.8" fill="#5e5e5e" stroke="#141414" stroke-width="1.55"/>
</g>
<g transform="rotate(-8 837.7 555.2)">
<path d="M828.1 555.2 v4.7 a9.6 5.8 0 0 0 19.1 0 v-4.7 z" fill="#1e1e1e" stroke="#141414" stroke-width="1.55"/>
<ellipse cx="837.7" cy="555.2" rx="9.6" ry="5.8" fill="#5e5e5e" stroke="#141414" stroke-width="1.55"/>
</g>
<g transform="rotate(-8 864.0 544.2)">
<path d="M854.5 544.2 v4.7 a9.5 5.8 0 0 0 19.1 0 v-4.7 z" fill="#1e1e1e" stroke="#141414" stroke-width="1.55"/>
<ellipse cx="864.0" cy="544.2" rx="9.5" ry="5.8" fill="#5e5e5e" stroke="#141414" stroke-width="1.55"/>
</g>
<g transform="rotate(-8 890.2 533.2)">
<path d="M880.7 533.2 v4.7 a9.5 5.8 0 0 0 19.0 0 v-4.7 z" fill="#1e1e1e" stroke="#141414" stroke-width="1.55"/>
<ellipse cx="890.2" cy="533.2" rx="9.5" ry="5.8" fill="#5e5e5e" stroke="#141414" stroke-width="1.55"/>
</g>
<g transform="rotate(-8 916.3 522.3)">
<path d="M906.8 522.3 v4.7 a9.5 5.8 0 0 0 19.0 0 v-4.7 z" fill="#1e1e1e" stroke="#141414" stroke-width="1.55"/>
<ellipse cx="916.3" cy="522.3" rx="9.5" ry="5.8" fill="#5e5e5e" stroke="#141414" stroke-width="1.55"/>
</g>
<g transform="rotate(-8 942.3 511.5)">
<path d="M932.9 511.5 v4.6 a9.5 5.8 0 0 0 18.9 0 v-4.6 z" fill="#1e1e1e" stroke="#141414" stroke-width="1.55"/>
<ellipse cx="942.3" cy="511.5" rx="9.5" ry="5.8" fill="#5e5e5e" stroke="#141414" stroke-width="1.55"/>
</g>
<g transform="rotate(-8 968.2 500.7)">
<path d="M958.8 500.7 v4.6 a9.4 5.7 0 0 0 18.9 0 v-4.6 z" fill="#1e1e1e" stroke="#141414" stroke-width="1.55"/>
<ellipse cx="968.2" cy="500.7" rx="9.4" ry="5.7" fill="#5e5e5e" stroke="#141414" stroke-width="1.55"/>
</g>
<g transform="rotate(-8 994.0 489.9)">
<path d="M984.6 489.9 v4.6 a9.4 5.7 0 0 0 18.8 0 v-4.6 z" fill="#1e1e1e" stroke="#141414" stroke-width="1.55"/>
<ellipse cx="994.0" cy="489.9" rx="9.4" ry="5.7" fill="#5e5e5e" stroke="#141414" stroke-width="1.55"/>
</g>
<g transform="rotate(-8 949.0 485.3)">
<path d="M939.6 485.3 v4.6 a9.4 5.7 0 0 0 18.9 0 v-4.6 z" fill="#1e1e1e" stroke="#141414" stroke-width="1.55"/>
<ellipse cx="949.0" cy="485.3" rx="9.4" ry="5.7" fill="#5e5e5e" stroke="#141414" stroke-width="1.55"/>
</g>
<g transform="rotate(-8 974.8 474.7)">
<path d="M965.4 474.7 v4.6 a9.4 5.7 0 0 0 18.8 0 v-4.6 z" fill="#1e1e1e" stroke="#141414" stroke-width="1.55"/>
<ellipse cx="974.8" cy="474.7" rx="9.4" ry="5.7" fill="#5e5e5e" stroke="#141414" stroke-width="1.55"/>
</g>
<polygon points="1016.5,507.3 1067.6,485.8 1067.6,475.3 1016.5,496.8" fill="#a9a9a9" stroke="#141414" stroke-width="1.55" stroke-linejoin="round" />
<polygon points="1016.5,496.8 1067.6,475.3 1048.4,460.3 997.3,481.5" fill="#a9a9a9" stroke="#141414" stroke-width="1.55" stroke-linejoin="round" />
<g transform="rotate(-8 1019.7 479.2)">
<path d="M1010.3 479.2 v4.6 a9.4 5.7 0 0 0 18.8 0 v-4.6 z" fill="#2e2e2e" stroke="#141414" stroke-width="1.55"/>
<ellipse cx="1019.7" cy="479.2" rx="9.4" ry="5.7" fill="#9a9a9a" stroke="#141414" stroke-width="1.55"/>
</g>
<g transform="rotate(-8 1045.3 468.5)">
<path d="M1035.9 468.5 v4.6 a9.4 5.7 0 0 0 18.7 0 v-4.6 z" fill="#2e2e2e" stroke="#141414" stroke-width="1.55"/>
<ellipse cx="1045.3" cy="468.5" rx="9.4" ry="5.7" fill="#9a9a9a" stroke="#141414" stroke-width="1.55"/>
</g>
<g transform="rotate(-8 1070.7 468.4)">
<path d="M1061.4 468.4 v4.6 a9.3 5.7 0 0 0 18.7 0 v-4.6 z" fill="#2e2e2e" stroke="#141414" stroke-width="1.55"/>
<ellipse cx="1070.7" cy="468.4" rx="9.3" ry="5.7" fill="#9a9a9a" stroke="#141414" stroke-width="1.55"/>
</g>
<g transform="rotate(-8 1096.1 457.8)">
<path d="M1086.8 457.8 v4.6 a9.3 5.7 0 0 0 18.6 0 v-4.6 z" fill="#2e2e2e" stroke="#141414" stroke-width="1.55"/>
<ellipse cx="1096.1" cy="457.8" rx="9.3" ry="5.7" fill="#9a9a9a" stroke="#141414" stroke-width="1.55"/>
</g>
<polygon points="799.3,532.7 817.6,543.2 815.0,561.4 804.5,578.4 791.4,587.6 781.6,585.0" fill="#7a7a7a" stroke="#141414" stroke-width="0.8" stroke-linejoin="round" />
<g transform="rotate(-8 815.6 566.0)">
<path d="M805.8 566.0 v4.9 a9.8 6.1 0 0 0 19.6 0 v-4.9 z" fill="#1e1e1e" stroke="#141414" stroke-width="1.55"/>
<ellipse cx="815.6" cy="566.0" rx="9.8" ry="6.1" fill="#5e5e5e" stroke="#141414" stroke-width="1.55"/>
</g>
<polygon points="818.2,515.1 830.6,522.9 843.7,525.5 868.5,522.9 865.9,520.3 843.7,519.0 825.4,512.5" fill="#e4f2fb" stroke="none" stroke-width="0" stroke-linejoin="round" />
<path d="M818.2 522.0 C828.0 530.5 850.2 534.4 869.8 529.8 L886.8 547.9 C863.3 556.6 830.6 557.9 808.4 551.4 L800.6 540.3 Z" fill="#c4c4c4" stroke="#141414" stroke-width="1.55" stroke-linejoin="round" />
<polygon points="829.3,553.6 850.2,555.6 850.2,560.1 829.3,558.2" fill="#b8b8b8" stroke="#141414" stroke-width="1.55" stroke-linejoin="round" />
<polyline points="886.8,541.6 886.8,547.9" fill="none" stroke="#141414" stroke-width="1.55" stroke-linejoin="round" stroke-linecap="round" />
<path d="M818.2 515.7 C828.0 524.2 850.2 528.1 869.8 523.6 L886.8 541.6 C863.3 550.3 830.6 551.6 808.4 545.1 L800.6 534.0 Z" fill="#ababab" stroke="#141414" stroke-width="1.55" stroke-linejoin="round" />
<path d="M771.2 547.7 L799.3 540.5 C811.0 553.0 808.4 576.5 781.6 592.1 L764.0 579.1 C775.8 568.6 778.4 558.2 771.2 547.7 Z" fill="#c6c6c6" stroke="#141414" stroke-width="1.55" stroke-linejoin="round" />
<polyline points="781.6,585.0 781.6,592.1" fill="none" stroke="#141414" stroke-width="1.55" stroke-linejoin="round" stroke-linecap="round" />
<polyline points="764.0,571.9 764.0,579.1" fill="none" stroke="#141414" stroke-width="1.55" stroke-linejoin="round" stroke-linecap="round" />
<path d="M771.2 540.5 L799.3 533.4 C811.0 545.8 808.4 569.3 781.6 585.0 L764.0 571.9 C775.8 561.4 778.4 551.0 771.2 540.5 Z" fill="#ababab" stroke="#141414" stroke-width="1.55" stroke-linejoin="round" />
<path d="M712.4 495.5 L766.0 473.7 L777.1 480.5 L818.2 515.1 Q837.2 528.1 869.2 522.3 L888.1 539.9 Q892.0 548.4 885.5 553.6 L851.5 556.5 L850.2 552.0 L830.6 550.3 L829.3 554.3 L811.0 551.3 Q811.0 574.5 781.6 595.4 L761.4 579.1 L761.4 570.6 Q773.2 561.4 769.9 549.7 L713.1 504.2 Z" fill="none" stroke="#c4202c" stroke-width="2.4" stroke-linejoin="round" />
<line x1="783.3" y1="165" x2="783.3" y2="460" stroke="#fff" stroke-width="1.6"/>
<polygon points="772.5,456.5 785.2,463 798,456.5 785.2,486" fill="#fff"/>
<line x1="785.4" y1="164" x2="785.4" y2="462" stroke="#000" stroke-width="2.8"/>
<polygon points="774,458 785.2,464 796.5,458 785.2,484" fill="#000"/>
<polygon points="546.7,90.0 603.2,134.1 603.2,144.1 546.7,100.0" fill="#8a8a8a" stroke="#141414" stroke-width="1.55" stroke-linejoin="round" />
<polygon points="603.2,134.1 656.2,112.9 656.2,122.9 603.2,144.1" fill="#9c9c9c" stroke="#141414" stroke-width="1.55" stroke-linejoin="round" />
<polygon points="546.7,90.0 600.6,68.8 656.2,112.9 603.2,134.1" fill="#a8a8a8" stroke="#141414" stroke-width="1.55" stroke-linejoin="round" />
<polygon points="733.7,88.1 790.4,134.8 790.4,144.8 733.7,98.1" fill="#8a8a8a" stroke="#141414" stroke-width="1.2" stroke-linejoin="round" />
<polygon points="790.4,134.8 842.1,112.5 842.1,122.5 790.4,144.8" fill="#9c9c9c" stroke="#141414" stroke-width="1.2" stroke-linejoin="round" />
<polygon points="733.7,88.1 786.1,67.5 842.1,112.5 790.4,134.8" fill="#a8a8a8" stroke="#141414" stroke-width="1.2" stroke-linejoin="round" />
<polygon points="739.4,87.6 785.4,70.1 836.4,111.8 791.1,130.5" fill="#20262e" stroke="#141414" stroke-width="0.7" stroke-linejoin="round" />
<polygon points="740.1,87.6 785.4,70.4 812.0,92.0 767.4,110.4" fill="#255486" stroke="none" stroke-width="0" stroke-linejoin="round" />
<polygon points="740.1,87.6 785.4,70.4 791.8,75.9 747.3,93.1" fill="#1e4672" stroke="none" stroke-width="0" stroke-linejoin="round" />
<path d="M776.8 109.6 L812.0 99.6 C820.6 110.4 812.0 119.0 800.5 121.8 C789.0 124.0 780.4 119.0 776.8 109.6 Z" fill="#f2c100" stroke="none" stroke-width="0" stroke-linejoin="round" />
<polygon points="774.6,106.3 787.5,102.0 788.4,103.5 775.5,107.8" fill="#20262e" stroke="none" stroke-width="0" stroke-linejoin="round" />
<polygon points="777.8,109.5 790.7,105.2 791.6,106.6 778.6,110.9" fill="#20262e" stroke="none" stroke-width="0" stroke-linejoin="round" />
<polygon points="780.9,112.7 793.9,108.3 794.7,109.8 781.8,114.1" fill="#20262e" stroke="none" stroke-width="0" stroke-linejoin="round" />
<polygon points="800.5,96.3 812.0,92.8 812.8,94.0 801.3,97.4" fill="#20262e" stroke="none" stroke-width="0" stroke-linejoin="round" />
<polygon points="803.1,98.9 814.6,95.4 815.4,96.6 803.9,100.0" fill="#20262e" stroke="none" stroke-width="0" stroke-linejoin="round" />
<polygon points="805.6,101.4 817.1,98.0 818.0,99.1 806.5,102.6" fill="#20262e" stroke="none" stroke-width="0" stroke-linejoin="round" />
<polygon points="759.4,101.6 769.9,98.0 774.2,92.4 781.5,89.9 776.6,88.1 783.4,87.2 798.3,90.5 803.2,88.1 808.8,93.0 802.6,97.3 798.3,97.3 796.4,109.1 782.2,104.2 771.7,106.6 768.6,103.5 764.8,105.3" fill="#4aa6de" stroke="none" stroke-width="0" stroke-linejoin="round" />
<polygon points="791.6,91.0 798.3,111.1 796.2,93.1 800.5,91.0 796.2,90.2" fill="#1d62c8" stroke="none" stroke-width="0" stroke-linejoin="round" />
<polygon points="773.9,89.5 780.4,87.6 783.2,89.5 777.5,93.1" fill="#2b6fb8" stroke="none" stroke-width="0" stroke-linejoin="round" />
<ellipse cx="792.6" cy="121.1" rx="3.9" ry="2.8" fill="#b8a23a" stroke="#f0e27a" stroke-width="1.0"/>
<line x1="812" y1="94.3" x2="866" y2="94.3" stroke="#000" stroke-width="2.4"/>
<circle cx="812" cy="94.3" r="3.8" fill="#000"/>
<rect x="866.6" y="68.7" width="51.2" height="50.6" rx="8" ry="8" fill="#fff" stroke="#000" stroke-width="2.6"/>
<rect x="870.3" y="72.4" width="43.8" height="43.2" rx="5.5" ry="5.5" fill="#fff" stroke="#222" stroke-width="0.9"/>
<defs><linearGradient id="pg" x1="0" y1="0" x2="1" y2="1"><stop offset="0" stop-color="#2a2a2a"/><stop offset="0.45" stop-color="#9a9a9a"/><stop offset="1" stop-color="#e8e8e8"/></linearGradient></defs>
<path d="M870.6 96 L870.6 77.5 Q870.6 72.7 875.5 72.7 L897 72.7 C893 78 896 86 889 90 C882 93.5 876 91 870.6 96 Z" fill="url(#pg)" stroke="#333" stroke-width="0.8"/>
<text x="891.8" y="112" font-family="Liberation Sans, sans-serif" font-size="15.5" text-anchor="middle" fill="#2b2b2b">4</text>
<polygon points="240.0,67.9 263.9,86.5 263.9,92.0 240.0,73.4" fill="#8a8a8a" stroke="#141414" stroke-width="1.0" stroke-linejoin="round" />
<polygon points="263.9,86.5 316.1,66.9 316.1,72.4 263.9,92.0" fill="#b0b0b0" stroke="#141414" stroke-width="1.0" stroke-linejoin="round" />
<polygon points="240.0,67.9 291.6,47.4 316.1,66.9 263.9,86.5" fill="#a6a6a6" stroke="#141414" stroke-width="1.0" stroke-linejoin="round" />
<path d="M127.4 73.5 L127.4 79.0 L139.8 87.2 L139.8 81.6 Z" fill="#9a9a9a" stroke="#141414" stroke-width="1.0" stroke-linejoin="round" />
<path d="M139.8 81.6 Q153.5 77.7 168.2 84.9 L168.2 90.5 Q153.5 83.3 139.8 87.2 Z" fill="#b5b5b5" stroke="#141414" stroke-width="1.0" stroke-linejoin="round" />
<path d="M168.2 84.9 L184.8 78.4 L184.8 83.6 L168.2 90.5 Z" fill="#b5b5b5" stroke="#141414" stroke-width="1.0" stroke-linejoin="round" />
<path d="M127.4 73.5 Q153.5 63.7 184.8 78.4 L168.2 84.9 Q153.5 77.7 139.8 81.6 Z" fill="#a6a6a6" stroke="#141414" stroke-width="1.0" stroke-linejoin="round" />
</svg>
</body></html>
